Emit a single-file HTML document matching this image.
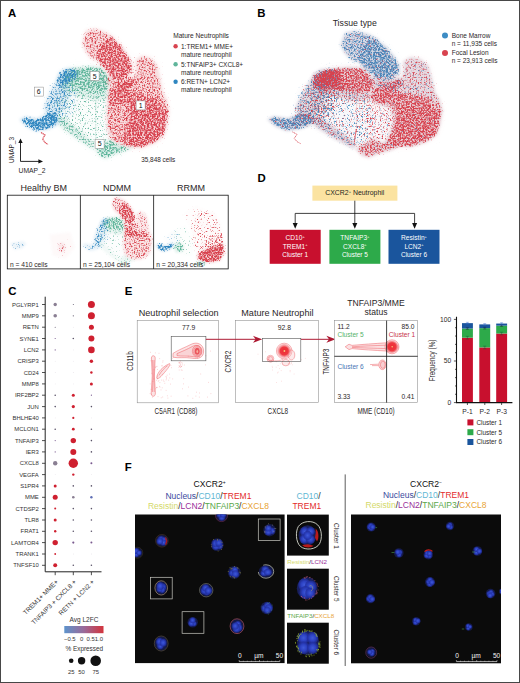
<!DOCTYPE html><html><head><meta charset="utf-8"><title>Figure</title><style>html,body{margin:0;padding:0;background:#fff}body{width:520px;height:683px;overflow:hidden;font-family:"Liberation Sans",sans-serif}</style></head><body><svg width="520" height="683" viewBox="0 0 520 683" font-family='&quot;Liberation Sans&quot;, sans-serif' style="display:block"><defs><filter id="fa5" filterUnits="userSpaceOnUse" x="10" y="20" width="170" height="150" color-interpolation-filters="sRGB"><feGaussianBlur in="SourceGraphic" stdDeviation="1.7" result="b"/><feTurbulence type="fractalNoise" baseFrequency="0.61" numOctaves="3" seed="11" result="n"/><feColorMatrix in="n" type="matrix" values="0 0 0 0 0 0 0 0 0 0 0 0 0 0 0 1.5 0 0 0 -0.25" result="n2"/><feComposite in="b" in2="n2" operator="arithmetic" k1="0" k2="1" k3="1" k4="-1" result="s"/><feColorMatrix in="s" type="matrix" values="0 0 0 0 0 0 0 0 0 0 0 0 0 0 0 0 0 0 2.6 0" result="m"/><feColorMatrix in="b" type="matrix" values="1 0 0 0 0 0 1 0 0 0 0 0 1 0 0 0 0 0 0 1" result="c"/><feComposite in="c" in2="m" operator="in" result="d"/><feColorMatrix in="b" type="matrix" values="1 0 0 0 0 0 1 0 0 0 0 0 1 0 0 0 0 0 0.3 0" result="bb"/><feMerge><feMergeNode in="bb"/><feMergeNode in="d"/></feMerge></filter><filter id="fa5s" filterUnits="userSpaceOnUse" x="10" y="20" width="170" height="150" color-interpolation-filters="sRGB"><feGaussianBlur in="SourceGraphic" stdDeviation="2.2" result="b"/><feTurbulence type="fractalNoise" baseFrequency="0.61" numOctaves="3" seed="21" result="n"/><feColorMatrix in="n" type="matrix" values="0 0 0 0 0 0 0 0 0 0 0 0 0 0 0 1.9 0 0 0 -0.45" result="n2"/><feComposite in="b" in2="n2" operator="arithmetic" k1="0" k2="1" k3="1" k4="-1" result="s"/><feColorMatrix in="s" type="matrix" values="0 0 0 0 0 0 0 0 0 0 0 0 0 0 0 0 0 0 2.6 0" result="m"/><feColorMatrix in="b" type="matrix" values="1 0 0 0 0 0 1 0 0 0 0 0 1 0 0 0 0 0 0 1" result="c"/><feComposite in="c" in2="m" operator="in" result="d"/><feColorMatrix in="b" type="matrix" values="1 0 0 0 0 0 1 0 0 0 0 0 1 0 0 0 0 0 0.08 0" result="bb"/><feMerge><feMergeNode in="bb"/><feMergeNode in="d"/></feMerge></filter><filter id="fa6" filterUnits="userSpaceOnUse" x="10" y="20" width="170" height="150" color-interpolation-filters="sRGB"><feGaussianBlur in="SourceGraphic" stdDeviation="1.7" result="b"/><feTurbulence type="fractalNoise" baseFrequency="0.61" numOctaves="3" seed="12" result="n"/><feColorMatrix in="n" type="matrix" values="0 0 0 0 0 0 0 0 0 0 0 0 0 0 0 1.5 0 0 0 -0.25" result="n2"/><feComposite in="b" in2="n2" operator="arithmetic" k1="0" k2="1" k3="1" k4="-1" result="s"/><feColorMatrix in="s" type="matrix" values="0 0 0 0 0 0 0 0 0 0 0 0 0 0 0 0 0 0 2.6 0" result="m"/><feColorMatrix in="b" type="matrix" values="1 0 0 0 0 0 1 0 0 0 0 0 1 0 0 0 0 0 0 1" result="c"/><feComposite in="c" in2="m" operator="in" result="d"/><feColorMatrix in="b" type="matrix" values="1 0 0 0 0 0 1 0 0 0 0 0 1 0 0 0 0 0 0.3 0" result="bb"/><feMerge><feMergeNode in="bb"/><feMergeNode in="d"/></feMerge></filter><filter id="fa6s" filterUnits="userSpaceOnUse" x="10" y="20" width="170" height="150" color-interpolation-filters="sRGB"><feGaussianBlur in="SourceGraphic" stdDeviation="2.2" result="b"/><feTurbulence type="fractalNoise" baseFrequency="0.61" numOctaves="3" seed="22" result="n"/><feColorMatrix in="n" type="matrix" values="0 0 0 0 0 0 0 0 0 0 0 0 0 0 0 1.9 0 0 0 -0.45" result="n2"/><feComposite in="b" in2="n2" operator="arithmetic" k1="0" k2="1" k3="1" k4="-1" result="s"/><feColorMatrix in="s" type="matrix" values="0 0 0 0 0 0 0 0 0 0 0 0 0 0 0 0 0 0 2.6 0" result="m"/><feColorMatrix in="b" type="matrix" values="1 0 0 0 0 0 1 0 0 0 0 0 1 0 0 0 0 0 0 1" result="c"/><feComposite in="c" in2="m" operator="in" result="d"/><feColorMatrix in="b" type="matrix" values="1 0 0 0 0 0 1 0 0 0 0 0 1 0 0 0 0 0 0.08 0" result="bb"/><feMerge><feMergeNode in="bb"/><feMergeNode in="d"/></feMerge></filter><filter id="fa1" filterUnits="userSpaceOnUse" x="10" y="20" width="170" height="150" color-interpolation-filters="sRGB"><feGaussianBlur in="SourceGraphic" stdDeviation="1.7" result="b"/><feTurbulence type="fractalNoise" baseFrequency="0.61" numOctaves="3" seed="13" result="n"/><feColorMatrix in="n" type="matrix" values="0 0 0 0 0 0 0 0 0 0 0 0 0 0 0 1.5 0 0 0 -0.25" result="n2"/><feComposite in="b" in2="n2" operator="arithmetic" k1="0" k2="1" k3="1" k4="-1" result="s"/><feColorMatrix in="s" type="matrix" values="0 0 0 0 0 0 0 0 0 0 0 0 0 0 0 0 0 0 2.6 0" result="m"/><feColorMatrix in="b" type="matrix" values="1 0 0 0 0 0 1 0 0 0 0 0 1 0 0 0 0 0 0 1" result="c"/><feComposite in="c" in2="m" operator="in" result="d"/><feColorMatrix in="b" type="matrix" values="1 0 0 0 0 0 1 0 0 0 0 0 1 0 0 0 0 0 0.3 0" result="bb"/><feMerge><feMergeNode in="bb"/><feMergeNode in="d"/></feMerge></filter><filter id="fa1s" filterUnits="userSpaceOnUse" x="10" y="20" width="170" height="150" color-interpolation-filters="sRGB"><feGaussianBlur in="SourceGraphic" stdDeviation="2.2" result="b"/><feTurbulence type="fractalNoise" baseFrequency="0.61" numOctaves="3" seed="23" result="n"/><feColorMatrix in="n" type="matrix" values="0 0 0 0 0 0 0 0 0 0 0 0 0 0 0 1.9 0 0 0 -0.45" result="n2"/><feComposite in="b" in2="n2" operator="arithmetic" k1="0" k2="1" k3="1" k4="-1" result="s"/><feColorMatrix in="s" type="matrix" values="0 0 0 0 0 0 0 0 0 0 0 0 0 0 0 0 0 0 2.6 0" result="m"/><feColorMatrix in="b" type="matrix" values="1 0 0 0 0 0 1 0 0 0 0 0 1 0 0 0 0 0 0 1" result="c"/><feComposite in="c" in2="m" operator="in" result="d"/><feColorMatrix in="b" type="matrix" values="1 0 0 0 0 0 1 0 0 0 0 0 1 0 0 0 0 0 0.08 0" result="bb"/><feMerge><feMergeNode in="bb"/><feMergeNode in="d"/></feMerge></filter><filter id="fb0" filterUnits="userSpaceOnUse" x="260" y="22" width="195" height="145" color-interpolation-filters="sRGB"><feGaussianBlur in="SourceGraphic" stdDeviation="1.7" result="b"/><feTurbulence type="fractalNoise" baseFrequency="0.61" numOctaves="3" seed="31" result="n"/><feColorMatrix in="n" type="matrix" values="0 0 0 0 0 0 0 0 0 0 0 0 0 0 0 1.5 0 0 0 -0.25" result="n2"/><feComposite in="b" in2="n2" operator="arithmetic" k1="0" k2="1" k3="1" k4="-1" result="s"/><feColorMatrix in="s" type="matrix" values="0 0 0 0 0 0 0 0 0 0 0 0 0 0 0 0 0 0 2.6 0" result="m"/><feColorMatrix in="b" type="matrix" values="1 0 0 0 0 0 1 0 0 0 0 0 1 0 0 0 0 0 0 1" result="c"/><feComposite in="c" in2="m" operator="in" result="d"/><feColorMatrix in="b" type="matrix" values="1 0 0 0 0 0 1 0 0 0 0 0 1 0 0 0 0 0 0.3 0" result="bb"/><feMerge><feMergeNode in="bb"/><feMergeNode in="d"/></feMerge></filter><filter id="fb0s" filterUnits="userSpaceOnUse" x="260" y="22" width="195" height="145" color-interpolation-filters="sRGB"><feGaussianBlur in="SourceGraphic" stdDeviation="2.2" result="b"/><feTurbulence type="fractalNoise" baseFrequency="0.61" numOctaves="3" seed="41" result="n"/><feColorMatrix in="n" type="matrix" values="0 0 0 0 0 0 0 0 0 0 0 0 0 0 0 1.9 0 0 0 -0.45" result="n2"/><feComposite in="b" in2="n2" operator="arithmetic" k1="0" k2="1" k3="1" k4="-1" result="s"/><feColorMatrix in="s" type="matrix" values="0 0 0 0 0 0 0 0 0 0 0 0 0 0 0 0 0 0 2.6 0" result="m"/><feColorMatrix in="b" type="matrix" values="1 0 0 0 0 0 1 0 0 0 0 0 1 0 0 0 0 0 0 1" result="c"/><feComposite in="c" in2="m" operator="in" result="d"/><feColorMatrix in="b" type="matrix" values="1 0 0 0 0 0 1 0 0 0 0 0 1 0 0 0 0 0 0.08 0" result="bb"/><feMerge><feMergeNode in="bb"/><feMergeNode in="d"/></feMerge></filter><filter id="fb1" filterUnits="userSpaceOnUse" x="260" y="22" width="195" height="145" color-interpolation-filters="sRGB"><feGaussianBlur in="SourceGraphic" stdDeviation="1.7" result="b"/><feTurbulence type="fractalNoise" baseFrequency="0.61" numOctaves="3" seed="38" result="n"/><feColorMatrix in="n" type="matrix" values="0 0 0 0 0 0 0 0 0 0 0 0 0 0 0 1.5 0 0 0 -0.25" result="n2"/><feComposite in="b" in2="n2" operator="arithmetic" k1="0" k2="1" k3="1" k4="-1" result="s"/><feColorMatrix in="s" type="matrix" values="0 0 0 0 0 0 0 0 0 0 0 0 0 0 0 0 0 0 2.6 0" result="m"/><feColorMatrix in="b" type="matrix" values="1 0 0 0 0 0 1 0 0 0 0 0 1 0 0 0 0 0 0 1" result="c"/><feComposite in="c" in2="m" operator="in" result="d"/><feColorMatrix in="b" type="matrix" values="1 0 0 0 0 0 1 0 0 0 0 0 1 0 0 0 0 0 0.3 0" result="bb"/><feMerge><feMergeNode in="bb"/><feMergeNode in="d"/></feMerge></filter><filter id="fb1s" filterUnits="userSpaceOnUse" x="260" y="22" width="195" height="145" color-interpolation-filters="sRGB"><feGaussianBlur in="SourceGraphic" stdDeviation="2.2" result="b"/><feTurbulence type="fractalNoise" baseFrequency="0.61" numOctaves="3" seed="48" result="n"/><feColorMatrix in="n" type="matrix" values="0 0 0 0 0 0 0 0 0 0 0 0 0 0 0 1.9 0 0 0 -0.45" result="n2"/><feComposite in="b" in2="n2" operator="arithmetic" k1="0" k2="1" k3="1" k4="-1" result="s"/><feColorMatrix in="s" type="matrix" values="0 0 0 0 0 0 0 0 0 0 0 0 0 0 0 0 0 0 2.6 0" result="m"/><feColorMatrix in="b" type="matrix" values="1 0 0 0 0 0 1 0 0 0 0 0 1 0 0 0 0 0 0 1" result="c"/><feComposite in="c" in2="m" operator="in" result="d"/><feColorMatrix in="b" type="matrix" values="1 0 0 0 0 0 1 0 0 0 0 0 1 0 0 0 0 0 0.08 0" result="bb"/><feMerge><feMergeNode in="bb"/><feMergeNode in="d"/></feMerge></filter><filter id="fm0_5" filterUnits="userSpaceOnUse" x="7.3" y="195.2" width="73.1" height="73.7" color-interpolation-filters="sRGB"><feGaussianBlur in="SourceGraphic" stdDeviation="1" result="b"/><feTurbulence type="fractalNoise" baseFrequency="0.67" numOctaves="3" seed="51" result="n"/><feColorMatrix in="n" type="matrix" values="0 0 0 0 0 0 0 0 0 0 0 0 0 0 0 1.5 0 0 0 -0.25" result="n2"/><feComposite in="b" in2="n2" operator="arithmetic" k1="0" k2="1" k3="1" k4="-1" result="s"/><feColorMatrix in="s" type="matrix" values="0 0 0 0 0 0 0 0 0 0 0 0 0 0 0 0 0 0 2.6 0" result="m"/><feColorMatrix in="b" type="matrix" values="1 0 0 0 0 0 1 0 0 0 0 0 1 0 0 0 0 0 0 1" result="c"/><feComposite in="c" in2="m" operator="in" result="d"/><feColorMatrix in="b" type="matrix" values="1 0 0 0 0 0 1 0 0 0 0 0 1 0 0 0 0 0 0.25 0" result="bb"/><feMerge><feMergeNode in="bb"/><feMergeNode in="d"/></feMerge></filter><filter id="fm0_5s" filterUnits="userSpaceOnUse" x="7.3" y="195.2" width="73.1" height="73.7" color-interpolation-filters="sRGB"><feGaussianBlur in="SourceGraphic" stdDeviation="1.3" result="b"/><feTurbulence type="fractalNoise" baseFrequency="0.67" numOctaves="3" seed="71" result="n"/><feColorMatrix in="n" type="matrix" values="0 0 0 0 0 0 0 0 0 0 0 0 0 0 0 1.9 0 0 0 -0.45" result="n2"/><feComposite in="b" in2="n2" operator="arithmetic" k1="0" k2="1" k3="1" k4="-1" result="s"/><feColorMatrix in="s" type="matrix" values="0 0 0 0 0 0 0 0 0 0 0 0 0 0 0 0 0 0 2.6 0" result="m"/><feColorMatrix in="b" type="matrix" values="1 0 0 0 0 0 1 0 0 0 0 0 1 0 0 0 0 0 0 1" result="c"/><feComposite in="c" in2="m" operator="in" result="d"/><feColorMatrix in="b" type="matrix" values="1 0 0 0 0 0 1 0 0 0 0 0 1 0 0 0 0 0 0.08 0" result="bb"/><feMerge><feMergeNode in="bb"/><feMergeNode in="d"/></feMerge></filter><filter id="fm0_6" filterUnits="userSpaceOnUse" x="7.3" y="195.2" width="73.1" height="73.7" color-interpolation-filters="sRGB"><feGaussianBlur in="SourceGraphic" stdDeviation="1" result="b"/><feTurbulence type="fractalNoise" baseFrequency="0.67" numOctaves="3" seed="52" result="n"/><feColorMatrix in="n" type="matrix" values="0 0 0 0 0 0 0 0 0 0 0 0 0 0 0 1.5 0 0 0 -0.25" result="n2"/><feComposite in="b" in2="n2" operator="arithmetic" k1="0" k2="1" k3="1" k4="-1" result="s"/><feColorMatrix in="s" type="matrix" values="0 0 0 0 0 0 0 0 0 0 0 0 0 0 0 0 0 0 2.6 0" result="m"/><feColorMatrix in="b" type="matrix" values="1 0 0 0 0 0 1 0 0 0 0 0 1 0 0 0 0 0 0 1" result="c"/><feComposite in="c" in2="m" operator="in" result="d"/><feColorMatrix in="b" type="matrix" values="1 0 0 0 0 0 1 0 0 0 0 0 1 0 0 0 0 0 0.25 0" result="bb"/><feMerge><feMergeNode in="bb"/><feMergeNode in="d"/></feMerge></filter><filter id="fm0_6s" filterUnits="userSpaceOnUse" x="7.3" y="195.2" width="73.1" height="73.7" color-interpolation-filters="sRGB"><feGaussianBlur in="SourceGraphic" stdDeviation="1.3" result="b"/><feTurbulence type="fractalNoise" baseFrequency="0.67" numOctaves="3" seed="72" result="n"/><feColorMatrix in="n" type="matrix" values="0 0 0 0 0 0 0 0 0 0 0 0 0 0 0 1.9 0 0 0 -0.45" result="n2"/><feComposite in="b" in2="n2" operator="arithmetic" k1="0" k2="1" k3="1" k4="-1" result="s"/><feColorMatrix in="s" type="matrix" values="0 0 0 0 0 0 0 0 0 0 0 0 0 0 0 0 0 0 2.6 0" result="m"/><feColorMatrix in="b" type="matrix" values="1 0 0 0 0 0 1 0 0 0 0 0 1 0 0 0 0 0 0 1" result="c"/><feComposite in="c" in2="m" operator="in" result="d"/><feColorMatrix in="b" type="matrix" values="1 0 0 0 0 0 1 0 0 0 0 0 1 0 0 0 0 0 0.08 0" result="bb"/><feMerge><feMergeNode in="bb"/><feMergeNode in="d"/></feMerge></filter><filter id="fm0_1" filterUnits="userSpaceOnUse" x="7.3" y="195.2" width="73.1" height="73.7" color-interpolation-filters="sRGB"><feGaussianBlur in="SourceGraphic" stdDeviation="1" result="b"/><feTurbulence type="fractalNoise" baseFrequency="0.67" numOctaves="3" seed="53" result="n"/><feColorMatrix in="n" type="matrix" values="0 0 0 0 0 0 0 0 0 0 0 0 0 0 0 1.5 0 0 0 -0.25" result="n2"/><feComposite in="b" in2="n2" operator="arithmetic" k1="0" k2="1" k3="1" k4="-1" result="s"/><feColorMatrix in="s" type="matrix" values="0 0 0 0 0 0 0 0 0 0 0 0 0 0 0 0 0 0 2.6 0" result="m"/><feColorMatrix in="b" type="matrix" values="1 0 0 0 0 0 1 0 0 0 0 0 1 0 0 0 0 0 0 1" result="c"/><feComposite in="c" in2="m" operator="in" result="d"/><feColorMatrix in="b" type="matrix" values="1 0 0 0 0 0 1 0 0 0 0 0 1 0 0 0 0 0 0.25 0" result="bb"/><feMerge><feMergeNode in="bb"/><feMergeNode in="d"/></feMerge></filter><filter id="fm0_1s" filterUnits="userSpaceOnUse" x="7.3" y="195.2" width="73.1" height="73.7" color-interpolation-filters="sRGB"><feGaussianBlur in="SourceGraphic" stdDeviation="1.3" result="b"/><feTurbulence type="fractalNoise" baseFrequency="0.67" numOctaves="3" seed="73" result="n"/><feColorMatrix in="n" type="matrix" values="0 0 0 0 0 0 0 0 0 0 0 0 0 0 0 1.9 0 0 0 -0.45" result="n2"/><feComposite in="b" in2="n2" operator="arithmetic" k1="0" k2="1" k3="1" k4="-1" result="s"/><feColorMatrix in="s" type="matrix" values="0 0 0 0 0 0 0 0 0 0 0 0 0 0 0 0 0 0 2.6 0" result="m"/><feColorMatrix in="b" type="matrix" values="1 0 0 0 0 0 1 0 0 0 0 0 1 0 0 0 0 0 0 1" result="c"/><feComposite in="c" in2="m" operator="in" result="d"/><feColorMatrix in="b" type="matrix" values="1 0 0 0 0 0 1 0 0 0 0 0 1 0 0 0 0 0 0.08 0" result="bb"/><feMerge><feMergeNode in="bb"/><feMergeNode in="d"/></feMerge></filter><clipPath id="clipm0"><rect x="7.3" y="195.2" width="73.1" height="73.7"/></clipPath><filter id="fm1_5" filterUnits="userSpaceOnUse" x="80.4" y="195.2" width="73.2" height="73.7" color-interpolation-filters="sRGB"><feGaussianBlur in="SourceGraphic" stdDeviation="1" result="b"/><feTurbulence type="fractalNoise" baseFrequency="0.67" numOctaves="3" seed="56" result="n"/><feColorMatrix in="n" type="matrix" values="0 0 0 0 0 0 0 0 0 0 0 0 0 0 0 1.5 0 0 0 -0.25" result="n2"/><feComposite in="b" in2="n2" operator="arithmetic" k1="0" k2="1" k3="1" k4="-1" result="s"/><feColorMatrix in="s" type="matrix" values="0 0 0 0 0 0 0 0 0 0 0 0 0 0 0 0 0 0 2.6 0" result="m"/><feColorMatrix in="b" type="matrix" values="1 0 0 0 0 0 1 0 0 0 0 0 1 0 0 0 0 0 0 1" result="c"/><feComposite in="c" in2="m" operator="in" result="d"/><feColorMatrix in="b" type="matrix" values="1 0 0 0 0 0 1 0 0 0 0 0 1 0 0 0 0 0 0.25 0" result="bb"/><feMerge><feMergeNode in="bb"/><feMergeNode in="d"/></feMerge></filter><filter id="fm1_5s" filterUnits="userSpaceOnUse" x="80.4" y="195.2" width="73.2" height="73.7" color-interpolation-filters="sRGB"><feGaussianBlur in="SourceGraphic" stdDeviation="1.3" result="b"/><feTurbulence type="fractalNoise" baseFrequency="0.67" numOctaves="3" seed="76" result="n"/><feColorMatrix in="n" type="matrix" values="0 0 0 0 0 0 0 0 0 0 0 0 0 0 0 1.9 0 0 0 -0.45" result="n2"/><feComposite in="b" in2="n2" operator="arithmetic" k1="0" k2="1" k3="1" k4="-1" result="s"/><feColorMatrix in="s" type="matrix" values="0 0 0 0 0 0 0 0 0 0 0 0 0 0 0 0 0 0 2.6 0" result="m"/><feColorMatrix in="b" type="matrix" values="1 0 0 0 0 0 1 0 0 0 0 0 1 0 0 0 0 0 0 1" result="c"/><feComposite in="c" in2="m" operator="in" result="d"/><feColorMatrix in="b" type="matrix" values="1 0 0 0 0 0 1 0 0 0 0 0 1 0 0 0 0 0 0.08 0" result="bb"/><feMerge><feMergeNode in="bb"/><feMergeNode in="d"/></feMerge></filter><filter id="fm1_6" filterUnits="userSpaceOnUse" x="80.4" y="195.2" width="73.2" height="73.7" color-interpolation-filters="sRGB"><feGaussianBlur in="SourceGraphic" stdDeviation="1" result="b"/><feTurbulence type="fractalNoise" baseFrequency="0.67" numOctaves="3" seed="57" result="n"/><feColorMatrix in="n" type="matrix" values="0 0 0 0 0 0 0 0 0 0 0 0 0 0 0 1.5 0 0 0 -0.25" result="n2"/><feComposite in="b" in2="n2" operator="arithmetic" k1="0" k2="1" k3="1" k4="-1" result="s"/><feColorMatrix in="s" type="matrix" values="0 0 0 0 0 0 0 0 0 0 0 0 0 0 0 0 0 0 2.6 0" result="m"/><feColorMatrix in="b" type="matrix" values="1 0 0 0 0 0 1 0 0 0 0 0 1 0 0 0 0 0 0 1" result="c"/><feComposite in="c" in2="m" operator="in" result="d"/><feColorMatrix in="b" type="matrix" values="1 0 0 0 0 0 1 0 0 0 0 0 1 0 0 0 0 0 0.25 0" result="bb"/><feMerge><feMergeNode in="bb"/><feMergeNode in="d"/></feMerge></filter><filter id="fm1_6s" filterUnits="userSpaceOnUse" x="80.4" y="195.2" width="73.2" height="73.7" color-interpolation-filters="sRGB"><feGaussianBlur in="SourceGraphic" stdDeviation="1.3" result="b"/><feTurbulence type="fractalNoise" baseFrequency="0.67" numOctaves="3" seed="77" result="n"/><feColorMatrix in="n" type="matrix" values="0 0 0 0 0 0 0 0 0 0 0 0 0 0 0 1.9 0 0 0 -0.45" result="n2"/><feComposite in="b" in2="n2" operator="arithmetic" k1="0" k2="1" k3="1" k4="-1" result="s"/><feColorMatrix in="s" type="matrix" values="0 0 0 0 0 0 0 0 0 0 0 0 0 0 0 0 0 0 2.6 0" result="m"/><feColorMatrix in="b" type="matrix" values="1 0 0 0 0 0 1 0 0 0 0 0 1 0 0 0 0 0 0 1" result="c"/><feComposite in="c" in2="m" operator="in" result="d"/><feColorMatrix in="b" type="matrix" values="1 0 0 0 0 0 1 0 0 0 0 0 1 0 0 0 0 0 0.08 0" result="bb"/><feMerge><feMergeNode in="bb"/><feMergeNode in="d"/></feMerge></filter><filter id="fm1_1" filterUnits="userSpaceOnUse" x="80.4" y="195.2" width="73.2" height="73.7" color-interpolation-filters="sRGB"><feGaussianBlur in="SourceGraphic" stdDeviation="1" result="b"/><feTurbulence type="fractalNoise" baseFrequency="0.67" numOctaves="3" seed="58" result="n"/><feColorMatrix in="n" type="matrix" values="0 0 0 0 0 0 0 0 0 0 0 0 0 0 0 1.5 0 0 0 -0.25" result="n2"/><feComposite in="b" in2="n2" operator="arithmetic" k1="0" k2="1" k3="1" k4="-1" result="s"/><feColorMatrix in="s" type="matrix" values="0 0 0 0 0 0 0 0 0 0 0 0 0 0 0 0 0 0 2.6 0" result="m"/><feColorMatrix in="b" type="matrix" values="1 0 0 0 0 0 1 0 0 0 0 0 1 0 0 0 0 0 0 1" result="c"/><feComposite in="c" in2="m" operator="in" result="d"/><feColorMatrix in="b" type="matrix" values="1 0 0 0 0 0 1 0 0 0 0 0 1 0 0 0 0 0 0.25 0" result="bb"/><feMerge><feMergeNode in="bb"/><feMergeNode in="d"/></feMerge></filter><filter id="fm1_1s" filterUnits="userSpaceOnUse" x="80.4" y="195.2" width="73.2" height="73.7" color-interpolation-filters="sRGB"><feGaussianBlur in="SourceGraphic" stdDeviation="1.3" result="b"/><feTurbulence type="fractalNoise" baseFrequency="0.67" numOctaves="3" seed="78" result="n"/><feColorMatrix in="n" type="matrix" values="0 0 0 0 0 0 0 0 0 0 0 0 0 0 0 1.9 0 0 0 -0.45" result="n2"/><feComposite in="b" in2="n2" operator="arithmetic" k1="0" k2="1" k3="1" k4="-1" result="s"/><feColorMatrix in="s" type="matrix" values="0 0 0 0 0 0 0 0 0 0 0 0 0 0 0 0 0 0 2.6 0" result="m"/><feColorMatrix in="b" type="matrix" values="1 0 0 0 0 0 1 0 0 0 0 0 1 0 0 0 0 0 0 1" result="c"/><feComposite in="c" in2="m" operator="in" result="d"/><feColorMatrix in="b" type="matrix" values="1 0 0 0 0 0 1 0 0 0 0 0 1 0 0 0 0 0 0.08 0" result="bb"/><feMerge><feMergeNode in="bb"/><feMergeNode in="d"/></feMerge></filter><clipPath id="clipm1"><rect x="80.4" y="195.2" width="73.2" height="73.7"/></clipPath><filter id="fm2_5" filterUnits="userSpaceOnUse" x="153.6" y="195.2" width="74.6" height="73.7" color-interpolation-filters="sRGB"><feGaussianBlur in="SourceGraphic" stdDeviation="1" result="b"/><feTurbulence type="fractalNoise" baseFrequency="0.67" numOctaves="3" seed="61" result="n"/><feColorMatrix in="n" type="matrix" values="0 0 0 0 0 0 0 0 0 0 0 0 0 0 0 1.5 0 0 0 -0.25" result="n2"/><feComposite in="b" in2="n2" operator="arithmetic" k1="0" k2="1" k3="1" k4="-1" result="s"/><feColorMatrix in="s" type="matrix" values="0 0 0 0 0 0 0 0 0 0 0 0 0 0 0 0 0 0 2.6 0" result="m"/><feColorMatrix in="b" type="matrix" values="1 0 0 0 0 0 1 0 0 0 0 0 1 0 0 0 0 0 0 1" result="c"/><feComposite in="c" in2="m" operator="in" result="d"/><feColorMatrix in="b" type="matrix" values="1 0 0 0 0 0 1 0 0 0 0 0 1 0 0 0 0 0 0.25 0" result="bb"/><feMerge><feMergeNode in="bb"/><feMergeNode in="d"/></feMerge></filter><filter id="fm2_5s" filterUnits="userSpaceOnUse" x="153.6" y="195.2" width="74.6" height="73.7" color-interpolation-filters="sRGB"><feGaussianBlur in="SourceGraphic" stdDeviation="1.3" result="b"/><feTurbulence type="fractalNoise" baseFrequency="0.67" numOctaves="3" seed="81" result="n"/><feColorMatrix in="n" type="matrix" values="0 0 0 0 0 0 0 0 0 0 0 0 0 0 0 1.9 0 0 0 -0.45" result="n2"/><feComposite in="b" in2="n2" operator="arithmetic" k1="0" k2="1" k3="1" k4="-1" result="s"/><feColorMatrix in="s" type="matrix" values="0 0 0 0 0 0 0 0 0 0 0 0 0 0 0 0 0 0 2.6 0" result="m"/><feColorMatrix in="b" type="matrix" values="1 0 0 0 0 0 1 0 0 0 0 0 1 0 0 0 0 0 0 1" result="c"/><feComposite in="c" in2="m" operator="in" result="d"/><feColorMatrix in="b" type="matrix" values="1 0 0 0 0 0 1 0 0 0 0 0 1 0 0 0 0 0 0.08 0" result="bb"/><feMerge><feMergeNode in="bb"/><feMergeNode in="d"/></feMerge></filter><filter id="fm2_6" filterUnits="userSpaceOnUse" x="153.6" y="195.2" width="74.6" height="73.7" color-interpolation-filters="sRGB"><feGaussianBlur in="SourceGraphic" stdDeviation="1" result="b"/><feTurbulence type="fractalNoise" baseFrequency="0.67" numOctaves="3" seed="62" result="n"/><feColorMatrix in="n" type="matrix" values="0 0 0 0 0 0 0 0 0 0 0 0 0 0 0 1.5 0 0 0 -0.25" result="n2"/><feComposite in="b" in2="n2" operator="arithmetic" k1="0" k2="1" k3="1" k4="-1" result="s"/><feColorMatrix in="s" type="matrix" values="0 0 0 0 0 0 0 0 0 0 0 0 0 0 0 0 0 0 2.6 0" result="m"/><feColorMatrix in="b" type="matrix" values="1 0 0 0 0 0 1 0 0 0 0 0 1 0 0 0 0 0 0 1" result="c"/><feComposite in="c" in2="m" operator="in" result="d"/><feColorMatrix in="b" type="matrix" values="1 0 0 0 0 0 1 0 0 0 0 0 1 0 0 0 0 0 0.25 0" result="bb"/><feMerge><feMergeNode in="bb"/><feMergeNode in="d"/></feMerge></filter><filter id="fm2_6s" filterUnits="userSpaceOnUse" x="153.6" y="195.2" width="74.6" height="73.7" color-interpolation-filters="sRGB"><feGaussianBlur in="SourceGraphic" stdDeviation="1.3" result="b"/><feTurbulence type="fractalNoise" baseFrequency="0.67" numOctaves="3" seed="82" result="n"/><feColorMatrix in="n" type="matrix" values="0 0 0 0 0 0 0 0 0 0 0 0 0 0 0 1.9 0 0 0 -0.45" result="n2"/><feComposite in="b" in2="n2" operator="arithmetic" k1="0" k2="1" k3="1" k4="-1" result="s"/><feColorMatrix in="s" type="matrix" values="0 0 0 0 0 0 0 0 0 0 0 0 0 0 0 0 0 0 2.6 0" result="m"/><feColorMatrix in="b" type="matrix" values="1 0 0 0 0 0 1 0 0 0 0 0 1 0 0 0 0 0 0 1" result="c"/><feComposite in="c" in2="m" operator="in" result="d"/><feColorMatrix in="b" type="matrix" values="1 0 0 0 0 0 1 0 0 0 0 0 1 0 0 0 0 0 0.08 0" result="bb"/><feMerge><feMergeNode in="bb"/><feMergeNode in="d"/></feMerge></filter><filter id="fm2_1" filterUnits="userSpaceOnUse" x="153.6" y="195.2" width="74.6" height="73.7" color-interpolation-filters="sRGB"><feGaussianBlur in="SourceGraphic" stdDeviation="1" result="b"/><feTurbulence type="fractalNoise" baseFrequency="0.67" numOctaves="3" seed="63" result="n"/><feColorMatrix in="n" type="matrix" values="0 0 0 0 0 0 0 0 0 0 0 0 0 0 0 1.5 0 0 0 -0.25" result="n2"/><feComposite in="b" in2="n2" operator="arithmetic" k1="0" k2="1" k3="1" k4="-1" result="s"/><feColorMatrix in="s" type="matrix" values="0 0 0 0 0 0 0 0 0 0 0 0 0 0 0 0 0 0 2.6 0" result="m"/><feColorMatrix in="b" type="matrix" values="1 0 0 0 0 0 1 0 0 0 0 0 1 0 0 0 0 0 0 1" result="c"/><feComposite in="c" in2="m" operator="in" result="d"/><feColorMatrix in="b" type="matrix" values="1 0 0 0 0 0 1 0 0 0 0 0 1 0 0 0 0 0 0.25 0" result="bb"/><feMerge><feMergeNode in="bb"/><feMergeNode in="d"/></feMerge></filter><filter id="fm2_1s" filterUnits="userSpaceOnUse" x="153.6" y="195.2" width="74.6" height="73.7" color-interpolation-filters="sRGB"><feGaussianBlur in="SourceGraphic" stdDeviation="1.3" result="b"/><feTurbulence type="fractalNoise" baseFrequency="0.67" numOctaves="3" seed="83" result="n"/><feColorMatrix in="n" type="matrix" values="0 0 0 0 0 0 0 0 0 0 0 0 0 0 0 1.9 0 0 0 -0.45" result="n2"/><feComposite in="b" in2="n2" operator="arithmetic" k1="0" k2="1" k3="1" k4="-1" result="s"/><feColorMatrix in="s" type="matrix" values="0 0 0 0 0 0 0 0 0 0 0 0 0 0 0 0 0 0 2.6 0" result="m"/><feColorMatrix in="b" type="matrix" values="1 0 0 0 0 0 1 0 0 0 0 0 1 0 0 0 0 0 0 1" result="c"/><feComposite in="c" in2="m" operator="in" result="d"/><feColorMatrix in="b" type="matrix" values="1 0 0 0 0 0 1 0 0 0 0 0 1 0 0 0 0 0 0.08 0" result="bb"/><feMerge><feMergeNode in="bb"/><feMergeNode in="d"/></feMerge></filter><clipPath id="clipm2"><rect x="153.6" y="195.2" width="74.6" height="73.7"/></clipPath><linearGradient id="l2fc" x1="0" x2="1" y1="0" y2="0"><stop offset="0" stop-color="#5d93cb"/><stop offset="0.5" stop-color="#9a6a9a"/><stop offset="1" stop-color="#d3343c"/></linearGradient><radialGradient id="blob"><stop offset="0" stop-color="#f25a3e"/><stop offset="0.15" stop-color="#ee2f37"/><stop offset="0.62" stop-color="#ee3038" stop-opacity="0.95"/><stop offset="0.85" stop-color="#f26a70" stop-opacity="0.55"/><stop offset="1" stop-color="#f6a0a4" stop-opacity="0"/></radialGradient><filter id="soft" x="-20%" y="-20%" width="140%" height="140%"><feGaussianBlur stdDeviation="0.35"/></filter><radialGradient id="nuc"><stop offset="0" stop-color="#3f59d8"/><stop offset="0.55" stop-color="#2b40c0"/><stop offset="1" stop-color="#1f2b98" stop-opacity="0.7"/></radialGradient><clipPath id="clipf1"><rect x="135" y="514.5" width="149.6" height="148.6"/></clipPath><clipPath id="clipf2"><rect x="351" y="514.5" width="150" height="148.8"/></clipPath></defs><rect x="0" y="0" width="520" height="683" fill="#fff"/><g filter="url(#fa5s)"><polygon points="58.0,76.0 70.0,64.0 90.0,62.0 104.0,64.0 110.0,76.0 112.0,92.0 110.0,120.0 112.0,140.0 124.0,148.0 134.0,148.0 120.0,156.0 104.0,161.0 94.0,154.0 74.0,140.0 58.0,128.0 52.0,116.0 54.0,96.0" fill="#5fb59b" fill-opacity="0.14"/><polygon points="62.0,80.0 84.0,90.0 107.0,92.0 107.0,127.0 110.0,139.0 100.0,150.0 90.0,146.0 75.0,135.0 60.0,125.0 55.0,115.0 57.0,98.0" fill="#5fb59b" fill-opacity="0.25"/></g><g filter="url(#fa5)"><polygon points="66.0,71.0 74.0,67.5 90.0,66.0 101.0,67.0 107.0,74.0 110.0,84.0 107.0,92.0 98.0,92.0 84.0,90.0 70.0,86.0 62.0,80.0" fill="#5fb59b" fill-opacity="0.70"/><polygon points="62.0,80.0 70.0,86.0 84.0,90.0 98.0,92.0 107.0,92.0 108.0,99.0 96.0,101.0 82.0,98.0 68.0,93.0 60.0,87.0" fill="#5fb59b" fill-opacity="0.50"/><polygon points="95.0,150.0 101.0,145.0 110.0,139.0 118.0,144.0 128.0,147.0 136.0,146.0 126.0,151.0 114.0,155.0 106.0,159.0 100.0,157.0" fill="#5fb59b" fill-opacity="0.68"/><polygon points="57.0,118.0 62.0,116.0 80.0,130.0 96.0,145.0 93.0,150.0 76.0,139.0 60.0,127.0" fill="#5fb59b" fill-opacity="0.52"/></g><g filter="url(#fa6s)"><polygon points="48.0,88.0 62.0,78.0 78.0,86.0 78.0,108.0 64.0,124.0 50.0,126.0 42.0,114.0" fill="#2f86c0" fill-opacity="0.35"/></g><g filter="url(#fa6)"><polygon points="59.0,72.0 66.0,68.0 75.0,68.5 80.0,72.0 76.0,79.0 68.0,84.0 60.0,86.0 56.0,80.0" fill="#2f86c0" fill-opacity="0.70"/><polygon points="56.0,80.0 68.0,84.0 70.0,96.0 64.0,110.0 57.0,117.0 46.0,118.0 44.0,106.0 50.0,92.0" fill="#2f86c0" fill-opacity="0.47"/><polygon points="19.5,119.5 25.0,116.5 37.0,118.5 48.0,113.5 58.0,115.0 60.0,121.0 56.0,126.0 48.0,129.5 36.0,131.5 26.5,127.0" fill="#2f86c0" fill-opacity="0.78"/></g><g filter="url(#fa1s)"><polygon points="84.0,30.0 96.0,27.0 110.0,32.0 124.0,44.0 134.0,56.0 143.0,53.0 154.0,56.0 160.0,64.0 163.0,80.0 166.0,95.0 171.0,108.0 169.0,128.0 165.0,139.0 155.0,146.0 142.0,151.0 126.0,150.0 112.0,143.0 105.0,132.0 104.0,110.0 106.0,92.0 104.0,80.0 96.0,68.0 88.0,58.0 82.0,44.0" fill="#d8434f" fill-opacity="0.15"/></g><g filter="url(#fa1)"><polygon points="97.0,52.0 104.0,42.0 113.0,38.0 121.0,45.0 128.0,55.0 132.5,64.0 132.5,72.0 124.0,79.5 112.0,77.0 103.0,68.0 97.0,60.0" fill="#d8434f" fill-opacity="0.74"/><polygon points="86.0,30.5 95.0,28.5 106.0,32.0 115.0,38.0 105.0,43.0 97.0,52.0 98.0,61.0 91.0,59.0 85.0,51.0 82.0,43.0 84.0,36.0" fill="#d8434f" fill-opacity="0.56"/><polygon points="108.0,75.0 124.0,79.0 132.0,75.0 136.0,84.0 125.0,90.0 112.0,89.0 106.0,82.0" fill="#d8434f" fill-opacity="0.56"/><polygon points="135.5,60.0 142.0,55.5 150.0,57.5 157.0,64.0 160.0,77.0 163.0,92.0 167.0,100.0 150.0,96.0 135.0,92.0 120.0,88.0 113.0,83.0 125.0,82.0 134.0,78.0 136.0,69.0" fill="#d8434f" fill-opacity="0.56"/><polygon points="109.0,88.0 120.0,88.0 135.0,92.0 150.0,96.0 167.0,100.0 169.0,110.0 167.0,125.0 164.0,136.0 155.0,143.0 142.0,148.0 128.0,147.0 118.0,144.0 110.0,139.0 107.0,127.0 106.5,112.0 107.5,98.0" fill="#d8434f" fill-opacity="0.60"/><polygon points="109.0,88.0 120.0,88.0 135.0,92.0 150.0,96.0 160.0,98.0 158.0,106.0 140.0,104.0 125.0,103.0 110.0,104.0 107.5,98.0" fill="#d8434f" fill-opacity="0.35"/><polygon points="128.0,104.0 158.0,106.0 169.0,110.0 167.0,125.0 164.0,136.0 155.0,143.0 142.0,148.0 128.0,147.0 122.0,140.0 128.0,128.0 130.0,115.0" fill="#d8434f" fill-opacity="0.38"/></g><path d="M41,132.5 L45,135 L42.5,139 L45,142.5 L48,144.5" fill="none" stroke="#d8434f" stroke-width="1.1" stroke-dasharray="1.4 0.5"/><path d="M95.8,100 V140" fill="none" stroke="#5fb59b" stroke-width="0.6" stroke-dasharray="0.7 0.9"/><rect x="90.1" y="71.5" width="9" height="9" fill="#fff" stroke="#8a8a8a" stroke-width="0.5"/><text x="94.60" y="78.50" font-size="7" text-anchor="middle" fill="#111" font-weight="normal">5</text><rect x="136.1" y="100.9" width="9" height="9" fill="#fff" stroke="#8a8a8a" stroke-width="0.5"/><text x="140.60" y="107.90" font-size="7" text-anchor="middle" fill="#111" font-weight="normal">1</text><rect x="95.1" y="139.3" width="9" height="9" fill="#fff" stroke="#8a8a8a" stroke-width="0.5"/><text x="99.60" y="146.30" font-size="7" text-anchor="middle" fill="#111" font-weight="normal">5</text><rect x="34.3" y="87.1" width="9" height="9" fill="#fff" stroke="#8a8a8a" stroke-width="0.5"/><text x="38.80" y="94.10" font-size="7" text-anchor="middle" fill="#111" font-weight="normal">6</text><path d="M20.5,142 V161.4 H39" fill="none" stroke="#111" stroke-width="0.9"/><path d="M20.5,138.4 L18.3,143 L22.7,143 Z" fill="#111"/><path d="M43,161.4 L38.4,159.2 L38.4,163.6 Z" fill="#111"/><text x="0.00" y="0.00" font-size="7.7" text-anchor="start" fill="#2b2728" font-weight="normal" transform="translate(14.40 163.00) rotate(-90) scale(0.85 1)">UMAP_3</text><text x="0.00" y="0.00" font-size="7.7" text-anchor="start" fill="#2b2728" font-weight="normal" transform="translate(18.50 172.50) scale(0.88 1)">UMAP_2</text><text x="173.20" y="37.60" font-size="6.6" text-anchor="start" fill="#2b2728" font-weight="normal">Mature Neutrophils</text><circle cx="175.6" cy="46.3" r="2.2" fill="#d8434f"/><text x="181.00" y="48.60" font-size="6.5" text-anchor="start" fill="#2b2728" font-weight="normal">1:TREM1+ MME+</text><text x="181.00" y="56.70" font-size="6.5" text-anchor="start" fill="#2b2728" font-weight="normal">mature neutrophil</text><circle cx="175.6" cy="64.3" r="2.2" fill="#5fb59b"/><text x="181.00" y="66.60" font-size="6.5" text-anchor="start" fill="#2b2728" font-weight="normal">5:TNFAIP3+ CXCL8+</text><text x="181.00" y="74.70" font-size="6.5" text-anchor="start" fill="#2b2728" font-weight="normal">mature neutrophil</text><circle cx="175.6" cy="81.8" r="2.2" fill="#2f86c0"/><text x="181.00" y="84.10" font-size="6.5" text-anchor="start" fill="#2b2728" font-weight="normal">6:RETN+ LCN2+</text><text x="181.00" y="92.20" font-size="6.5" text-anchor="start" fill="#2b2728" font-weight="normal">mature neutrophil</text><text x="141.20" y="161.80" font-size="6.4" text-anchor="start" fill="#2b2728" font-weight="normal">35,848 cells</text><text x="8.00" y="16.50" font-size="11.4" text-anchor="start" fill="#000" font-weight="bold">A</text><g filter="url(#fb0s)"><polygon points="342.8,32.0 356.9,29.1 373.3,34.0 389.7,45.6 401.4,59.3 402.6,72.9 389.7,81.7 371.0,80.8 356.9,69.0 347.5,59.3 340.5,45.6" fill="#3d8cc4" fill-opacity="0.16"/><polygon points="312.4,76.8 326.4,65.2 349.9,63.2 366.3,67.1 371.0,92.4 371.0,129.5 361.6,149.0 333.5,139.2 312.4,127.5 298.3,125.6 291.3,113.9 300.6,90.5" fill="#3d8cc4" fill-opacity="0.15"/><polygon points="369.8,104.1 389.7,108.0 393.2,119.8 389.7,134.4 382.7,144.1 373.3,138.3 369.8,126.6" fill="#3d8cc4" fill-opacity="0.24"/><polygon points="317.1,80.8 342.8,90.5 369.8,92.4 369.8,126.6 373.3,138.3 361.6,149.0 349.9,145.1 332.3,134.4 314.7,124.6 308.8,114.9 311.2,98.3" fill="#3d8cc4" fill-opacity="0.25"/><polygon points="300.6,88.5 317.1,78.8 335.8,86.6 335.8,108.0 319.4,123.6 303.0,125.6 293.6,113.9" fill="#3d8cc4" fill-opacity="0.29"/></g><g filter="url(#fb0)"><polygon points="312.4,76.8 321.7,71.0 338.1,69.0 342.8,90.5 326.4,88.5 314.7,84.7" fill="#3d8cc4" fill-opacity="0.42"/><polygon points="358.1,53.5 366.3,43.7 376.8,39.8 386.2,46.6 394.4,56.4 399.7,65.2 399.7,72.9 389.7,80.3 375.7,77.8 365.1,69.0 358.1,61.2" fill="#3d8cc4" fill-opacity="0.72"/><polygon points="345.2,32.5 355.7,30.5 368.6,34.0 379.2,39.8 367.4,44.7 358.1,53.5 359.2,62.2 351.0,60.3 344.0,52.5 340.5,44.7 342.8,37.9" fill="#3d8cc4" fill-opacity="0.60"/><polygon points="371.0,75.9 389.7,79.8 399.1,75.9 403.8,84.7 390.9,90.5 375.7,89.5 368.6,82.7" fill="#3d8cc4" fill-opacity="0.36"/><polygon points="403.2,61.2 410.8,56.9 420.2,58.8 428.4,65.2 431.9,77.8 435.4,92.4 440.1,100.2 420.2,96.3 402.6,92.4 385.0,88.5 376.8,83.7 390.9,82.7 401.4,78.8 403.8,70.0" fill="#3d8cc4" fill-opacity="0.37"/><polygon points="372.1,88.5 385.0,88.5 402.6,92.4 420.2,96.3 440.1,100.2 442.5,110.0 440.1,124.6 436.6,135.3 426.0,142.2 410.8,147.1 394.4,146.1 382.7,144.1 389.7,134.4 393.2,119.8 389.7,108.0 375.7,104.1 370.4,98.3" fill="#3d8cc4" fill-opacity="0.30"/><polygon points="321.7,72.0 331.1,68.6 349.9,67.1 362.8,68.1 369.8,74.9 373.3,84.7 369.8,92.4 359.2,92.4 342.8,90.5 326.4,86.6 317.1,80.8" fill="#3d8cc4" fill-opacity="0.30"/><polygon points="317.1,80.8 326.4,86.6 342.8,90.5 359.2,92.4 369.8,92.4 371.0,99.3 356.9,101.2 340.5,98.3 324.1,93.4 314.7,87.6" fill="#3d8cc4" fill-opacity="0.30"/><polygon points="355.7,149.0 362.8,144.1 373.3,138.3 382.7,143.1 394.4,146.1 403.8,145.1 392.1,150.0 378.0,153.9 368.6,157.8 361.6,155.8" fill="#3d8cc4" fill-opacity="0.30"/><polygon points="311.2,117.8 317.1,115.8 338.1,129.5 356.9,144.1 353.4,149.0 333.5,138.3 314.7,126.6" fill="#3d8cc4" fill-opacity="0.45"/><polygon points="313.5,72.9 321.7,69.0 332.3,69.5 338.1,72.9 333.5,79.8 324.1,84.7 314.7,86.6 310.0,80.8" fill="#3d8cc4" fill-opacity="0.45"/><polygon points="310.0,80.8 324.1,84.7 326.4,96.3 319.4,110.0 311.2,116.8 298.3,117.8 296.0,106.1 303.0,92.4" fill="#3d8cc4" fill-opacity="0.40"/><polygon points="267.2,119.3 273.7,116.3 287.8,118.3 300.6,113.4 312.4,114.9 314.7,120.7 310.0,125.6 300.6,129.0 286.6,131.0 275.4,126.6" fill="#3d8cc4" fill-opacity="0.72"/></g><g filter="url(#fb1s)"><polygon points="312.4,76.8 326.4,65.2 349.9,63.2 366.3,67.1 371.0,92.4 371.0,129.5 361.6,149.0 333.5,139.2 312.4,127.5 298.3,125.6 291.3,113.9 300.6,90.5" fill="#d8434f" fill-opacity="0.13"/><polygon points="366.3,80.8 389.7,81.7 402.6,61.2 412.0,54.4 424.9,57.3 431.9,65.2 435.4,80.8 438.9,95.4 444.8,108.0 442.5,127.5 437.8,138.3 426.0,145.1 410.8,150.0 392.1,149.0 385.0,154.8 366.3,159.7 356.9,150.9 367.4,139.2 366.3,110.0" fill="#d8434f" fill-opacity="0.16"/><polygon points="369.8,104.1 389.7,108.0 393.2,119.8 389.7,134.4 382.7,144.1 373.3,138.3 369.8,126.6" fill="#d8434f" fill-opacity="0.30"/><polygon points="317.1,80.8 342.8,90.5 369.8,92.4 369.8,126.6 373.3,138.3 361.6,149.0 349.9,145.1 332.3,134.4 314.7,124.6 308.8,114.9 311.2,98.3" fill="#d8434f" fill-opacity="0.22"/><polygon points="300.6,88.5 317.1,78.8 335.8,86.6 335.8,108.0 319.4,123.6 303.0,125.6 293.6,113.9" fill="#d8434f" fill-opacity="0.22"/></g><g filter="url(#fb1)"><polygon points="312.4,76.8 321.7,71.0 338.1,69.0 342.8,90.5 326.4,88.5 314.7,84.7" fill="#d8434f" fill-opacity="0.50"/><polygon points="358.1,53.5 366.3,43.7 376.8,39.8 386.2,46.6 394.4,56.4 399.7,65.2 399.7,72.9 389.7,80.3 375.7,77.8 365.1,69.0 358.1,61.2" fill="#d8434f" fill-opacity="0.30"/><polygon points="345.2,32.5 355.7,30.5 368.6,34.0 379.2,39.8 367.4,44.7 358.1,53.5 359.2,62.2 351.0,60.3 344.0,52.5 340.5,44.7 342.8,37.9" fill="#d8434f" fill-opacity="0.30"/><polygon points="371.0,75.9 389.7,79.8 399.1,75.9 403.8,84.7 390.9,90.5 375.7,89.5 368.6,82.7" fill="#d8434f" fill-opacity="0.45"/><polygon points="403.2,61.2 410.8,56.9 420.2,58.8 428.4,65.2 431.9,77.8 435.4,92.4 440.1,100.2 420.2,96.3 402.6,92.4 385.0,88.5 376.8,83.7 390.9,82.7 401.4,78.8 403.8,70.0" fill="#d8434f" fill-opacity="0.45"/><polygon points="372.1,88.5 385.0,88.5 402.6,92.4 420.2,96.3 440.1,100.2 442.5,110.0 440.1,124.6 436.6,135.3 426.0,142.2 410.8,147.1 394.4,146.1 382.7,144.1 389.7,134.4 393.2,119.8 389.7,108.0 375.7,104.1 370.4,98.3" fill="#d8434f" fill-opacity="0.54"/><polygon points="372.1,88.5 385.0,88.5 402.6,92.4 420.2,96.3 431.9,98.3 429.6,106.1 408.5,104.1 390.9,103.2 373.3,104.1 370.4,98.3" fill="#d8434f" fill-opacity="0.39"/><polygon points="394.4,104.1 429.6,106.1 442.5,110.0 440.1,124.6 436.6,135.3 426.0,142.2 410.8,147.1 394.4,146.1 387.4,139.2 394.4,127.5 396.7,114.9" fill="#d8434f" fill-opacity="0.43"/><polygon points="321.7,72.0 331.1,68.6 349.9,67.1 362.8,68.1 369.8,74.9 373.3,84.7 369.8,92.4 359.2,92.4 342.8,90.5 326.4,86.6 317.1,80.8" fill="#d8434f" fill-opacity="0.72"/><polygon points="317.1,80.8 326.4,86.6 342.8,90.5 359.2,92.4 369.8,92.4 371.0,99.3 356.9,101.2 340.5,98.3 324.1,93.4 314.7,87.6" fill="#d8434f" fill-opacity="0.42"/><polygon points="355.7,149.0 362.8,144.1 373.3,138.3 382.7,143.1 394.4,146.1 403.8,145.1 392.1,150.0 378.0,153.9 368.6,157.8 361.6,155.8" fill="#d8434f" fill-opacity="0.62"/><polygon points="311.2,117.8 317.1,115.8 338.1,129.5 356.9,144.1 353.4,149.0 333.5,138.3 314.7,126.6" fill="#d8434f" fill-opacity="0.40"/><polygon points="313.5,72.9 321.7,69.0 332.3,69.5 338.1,72.9 333.5,79.8 324.1,84.7 314.7,86.6 310.0,80.8" fill="#d8434f" fill-opacity="0.40"/><polygon points="310.0,80.8 324.1,84.7 326.4,96.3 319.4,110.0 311.2,116.8 298.3,117.8 296.0,106.1 303.0,92.4" fill="#d8434f" fill-opacity="0.33"/><polygon points="267.2,119.3 273.7,116.3 287.8,118.3 300.6,113.4 312.4,114.9 314.7,120.7 310.0,125.6 300.6,129.0 286.6,131.0 275.4,126.6" fill="#d8434f" fill-opacity="0.36"/></g><path d="M292.4,131.9 L297.1,134.4 L294.2,138.3 L297.1,141.7 L300.6,143.6" fill="none" stroke="#d8434f" stroke-width="0.8" stroke-dasharray="1.2 0.6"/><path d="M356.6,93 V131" fill="none" stroke="#d8434f" stroke-width="0.6" stroke-dasharray="0.7 1.1" opacity="0.8"/><path d="M356.4,129 L355.2,136 L354.4,142.4" fill="none" stroke="#d8434f" stroke-width="0.9" opacity="0.9"/><text x="257.30" y="16.50" font-size="11.4" text-anchor="start" fill="#000" font-weight="bold">B</text><text x="354.70" y="26.20" font-size="8.7" text-anchor="middle" fill="#2b2728" font-weight="normal">Tissue type</text><circle cx="445" cy="35.5" r="3" fill="#3d8cc4"/><text x="451.70" y="37.70" font-size="6.5" text-anchor="start" fill="#2b2728" font-weight="normal">Bone Marrow</text><text x="451.70" y="45.90" font-size="6.5" text-anchor="start" fill="#2b2728" font-weight="normal">n = 11,935 cells</text><circle cx="445" cy="53.0" r="3" fill="#d8434f"/><text x="451.70" y="55.20" font-size="6.5" text-anchor="start" fill="#2b2728" font-weight="normal">Focal Lesion</text><text x="451.70" y="63.40" font-size="6.5" text-anchor="start" fill="#2b2728" font-weight="normal">n = 23,913 cells</text><g clip-path="url(#clipm0)"><g filter="url(#fm0_6)"><polygon points="10.4,243.0 23.5,240.9 26.3,244.1 22.6,248.3 14.2,249.8" fill="#2f86c0" fill-opacity="0.36"/></g><g filter="url(#fm0_1)"><polygon points="58.2,244.1 62.9,242.0 66.1,246.7 63.8,252.5 59.1,251.4" fill="#d8434f" fill-opacity="0.4"/><polygon points="49.3,234.6 70.3,232.0 75.0,247.7 65.7,258.8 52.6,255.6" fill="#d8434f" fill-opacity="0.12"/></g></g><text x="43.85" y="190.60" font-size="9" text-anchor="middle" fill="#2b2728" font-weight="normal">Healthy BM</text><text x="9.90" y="267.00" font-size="6.7" text-anchor="start" fill="#2b2728" font-weight="normal">n = 410 cells</text><g clip-path="url(#clipm1)"><g filter="url(#fm1_5s)"><polygon points="100.4,222.0 106.0,215.7 115.4,214.7 121.9,215.7 124.7,222.0 125.7,230.4 124.7,245.1 125.7,255.6 131.3,259.8 136.0,259.8 129.4,264.0 121.9,266.6 117.2,263.0 107.9,255.6 100.4,249.3 97.6,243.0 98.5,232.5" fill="#5fb59b" fill-opacity="0.10"/><polygon points="102.3,224.1 112.6,229.4 123.3,230.4 123.3,248.8 124.7,255.1 120.0,260.9 115.4,258.8 108.3,253.0 101.3,247.7 99.0,242.5 99.9,233.6" fill="#5fb59b" fill-opacity="0.14"/></g><g filter="url(#fm1_5)"><polygon points="104.1,219.4 107.9,217.5 115.4,216.8 120.5,217.3 123.3,221.0 124.7,226.2 123.3,230.4 119.1,230.4 112.6,229.4 106.0,227.3 102.3,224.1" fill="#5fb59b" fill-opacity="0.70"/><polygon points="102.3,224.1 106.0,227.3 112.6,229.4 119.1,230.4 123.3,230.4 123.8,234.1 118.2,235.1 111.6,233.6 105.1,230.9 101.3,227.8" fill="#5fb59b" fill-opacity="0.45"/><polygon points="117.7,260.9 120.5,258.2 124.7,255.1 128.5,257.7 133.1,259.3 136.9,258.8 132.2,261.4 126.6,263.5 122.8,265.6 120.0,264.5" fill="#5fb59b" fill-opacity="0.41"/><polygon points="99.9,244.1 102.3,243.0 110.7,250.4 118.2,258.2 116.8,260.9 108.8,255.1 101.3,248.8" fill="#5fb59b" fill-opacity="0.26"/></g><g filter="url(#fm1_6s)"><polygon points="95.7,228.3 102.3,223.1 109.7,227.3 109.7,238.8 103.2,247.2 96.6,248.3 92.9,242.0" fill="#2f86c0" fill-opacity="0.35"/></g><g filter="url(#fm1_6)"><polygon points="100.9,219.9 104.1,217.8 108.3,218.1 110.7,219.9 108.8,223.6 105.1,226.2 101.3,227.3 99.4,224.1" fill="#2f86c0" fill-opacity="0.59"/><polygon points="99.4,224.1 105.1,226.2 106.0,232.5 103.2,239.9 99.9,243.5 94.8,244.1 93.8,237.8 96.6,230.4" fill="#2f86c0" fill-opacity="0.47"/><polygon points="82.4,244.8 84.9,243.3 90.6,244.3 95.7,241.7 100.4,242.5 101.3,245.6 99.4,248.3 95.7,250.1 90.1,251.2 85.6,248.8" fill="#2f86c0" fill-opacity="0.43"/></g><g filter="url(#fm1_1s)"><polygon points="112.6,197.9 118.2,196.3 124.7,198.9 131.3,205.2 136.0,211.5 140.2,209.9 145.3,211.5 148.1,215.7 149.5,224.1 150.9,232.0 153.3,238.8 152.3,249.3 150.5,255.1 145.8,258.8 139.7,261.4 132.2,260.9 125.7,257.2 122.4,251.4 121.9,239.9 122.8,230.4 121.9,224.1 118.2,217.8 114.4,212.6 111.6,205.2" fill="#d8434f" fill-opacity="0.15"/></g><g filter="url(#fm1_1)"><polygon points="118.6,209.4 121.9,204.2 126.1,202.1 129.9,205.7 133.1,211.0 135.2,215.7 135.2,219.9 131.3,223.8 125.7,222.5 121.4,217.8 118.6,213.6" fill="#d8434f" fill-opacity="0.75"/><polygon points="113.5,198.1 117.7,197.1 122.8,198.9 127.1,202.1 122.4,204.7 118.6,209.4 119.1,214.1 115.8,213.1 113.0,208.9 111.6,204.7 112.6,201.0" fill="#d8434f" fill-opacity="0.53"/><polygon points="123.8,221.5 131.3,223.6 135.0,221.5 136.9,226.2 131.7,229.4 125.7,228.8 122.8,225.2" fill="#d8434f" fill-opacity="0.50"/><polygon points="136.7,213.6 139.7,211.2 143.4,212.3 146.7,215.7 148.1,222.5 149.5,230.4 151.4,234.6 143.4,232.5 136.4,230.4 129.4,228.3 126.1,225.7 131.7,225.2 136.0,223.1 136.9,218.3" fill="#d8434f" fill-opacity="0.44"/><polygon points="124.3,228.3 129.4,228.3 136.4,230.4 143.4,232.5 151.4,234.6 152.3,239.9 151.4,247.7 150.0,253.5 145.8,257.2 139.7,259.8 133.1,259.3 128.5,257.7 124.7,255.1 123.3,248.8 123.1,240.9 123.6,233.6" fill="#d8434f" fill-opacity="0.51"/><polygon points="124.3,228.3 129.4,228.3 136.4,230.4 143.4,232.5 148.1,233.6 147.2,237.8 138.8,236.7 131.7,236.2 124.7,236.7 123.6,233.6" fill="#d8434f" fill-opacity="0.47"/><polygon points="133.1,236.7 147.2,237.8 152.3,239.9 151.4,247.7 150.0,253.5 145.8,257.2 139.7,259.8 133.1,259.3 130.3,255.6 133.1,249.3 134.1,242.5" fill="#d8434f" fill-opacity="0.06"/></g></g><text x="117.00" y="190.60" font-size="9" text-anchor="middle" fill="#2b2728" font-weight="normal">NDMM</text><text x="83.00" y="267.00" font-size="6.7" text-anchor="start" fill="#2b2728" font-weight="normal">n = 25,104 cells</text><g clip-path="url(#clipm2)"><g filter="url(#fm2_5s)"><polygon points="170.0,232.0 186.0,226.0 192.0,240.0 194.0,256.0 184.0,256.0 176.0,250.0" fill="#5fb59b" fill-opacity="0.20"/></g><g filter="url(#fm2_5)"><polygon points="172.5,246.0 178.0,241.5 184.0,244.5 183.5,251.5 176.0,253.0" fill="#5fb59b" fill-opacity="0.64"/><polygon points="195.5,262.0 201.0,260.5 207.0,263.0 203.0,266.5 197.0,266.0" fill="#5fb59b" fill-opacity="0.66"/></g><g filter="url(#fm2_6s)"><polygon points="164.0,238.0 176.0,230.0 182.0,238.0 176.0,246.0 168.0,246.0" fill="#2f86c0" fill-opacity="0.22"/></g><g filter="url(#fm2_6)"><polygon points="155.5,245.0 160.0,243.0 166.0,245.5 172.0,242.0 174.0,246.0 170.0,250.0 163.0,252.0 158.0,249.5" fill="#2f86c0" fill-opacity="0.74"/></g><g filter="url(#fm2_1s)"><polygon points="191.0,228.0 198.0,214.0 206.0,211.0 214.0,212.0 220.0,222.0 224.0,240.0 225.0,254.0 200.0,256.0 193.0,246.0" fill="#d8434f" fill-opacity="0.34"/><polygon points="200.0,246.0 208.0,238.0 222.0,232.0 225.0,246.0 212.0,250.0" fill="#d8434f" fill-opacity="0.30"/><polygon points="184.0,214.0 196.0,206.0 206.0,210.0 198.0,222.0 190.0,228.0" fill="#d8434f" fill-opacity="0.17"/></g><g filter="url(#fm2_1)"><polygon points="197.3,253.5 204.0,249.5 210.0,247.0 223.3,243.5 224.8,253.0 220.0,261.0 211.0,263.0 202.0,262.0 196.5,257.8" fill="#d8434f" fill-opacity="0.80"/></g></g><text x="190.90" y="190.60" font-size="9" text-anchor="middle" fill="#2b2728" font-weight="normal">RRMM</text><text x="156.20" y="267.00" font-size="6.7" text-anchor="start" fill="#2b2728" font-weight="normal">n = 20,334 cells</text><rect x="7.3" y="195.2" width="220.9" height="73.7" fill="none" stroke="#111" stroke-width="0.8"/><path d="M80.4,195.2 V268.9 M153.6,195.2 V268.9" stroke="#111" stroke-width="0.8"/><text x="257.40" y="182.00" font-size="11.4" text-anchor="start" fill="#000" font-weight="bold">D</text><rect x="312.4" y="185.6" width="85" height="15.1" fill="#fbe3a1"/><text x="354.8" y="195.2" font-size="6.9" text-anchor="middle" fill="#231f20">CXCR2<tspan dy="-2.2" font-size="4">+</tspan><tspan dy="2.2"> Neutrophil</tspan></text><path d="M354.8,200.7 V225 M295.2,225 V213.4 H414.6 V225" fill="none" stroke="#111" stroke-width="0.8"/><path d="M295.2,228.8 L292.7,223 L297.7,223 Z" fill="#111"/><path d="M354.8,228.8 L352.3,223 L357.3,223 Z" fill="#111"/><path d="M414.6,228.8 L412.1,223 L417.1,223 Z" fill="#111"/><rect x="269.7" y="229.8" width="51" height="34" fill="#c8102e"/><text x="295.2" y="240.1" font-size="6.6" text-anchor="middle" fill="#fff">CD10<tspan dy="-2.2" font-size="4">+</tspan></text><text x="295.2" y="248.5" font-size="6.6" text-anchor="middle" fill="#fff">TREM1<tspan dy="-2.2" font-size="4">+</tspan></text><text x="295.20" y="256.90" font-size="6.5" text-anchor="middle" fill="#fff" font-weight="normal">Cluster 1</text><rect x="329.4" y="229.8" width="51" height="34" fill="#2daa4a"/><text x="354.9" y="240.1" font-size="6.6" text-anchor="middle" fill="#fff">TNFAIP3<tspan dy="-2.2" font-size="4">+</tspan></text><text x="354.9" y="248.5" font-size="6.6" text-anchor="middle" fill="#fff">CXCL8<tspan dy="-2.2" font-size="4">+</tspan></text><text x="354.90" y="256.90" font-size="6.5" text-anchor="middle" fill="#fff" font-weight="normal">Cluster 5</text><rect x="388.5" y="229.8" width="51" height="34" fill="#1a559d"/><text x="414.0" y="240.1" font-size="6.6" text-anchor="middle" fill="#fff">Resistin<tspan dy="-2.2" font-size="4">+</tspan></text><text x="414.0" y="248.5" font-size="6.6" text-anchor="middle" fill="#fff">LCN2<tspan dy="-2.2" font-size="4">+</tspan></text><text x="414.00" y="256.90" font-size="6.5" text-anchor="middle" fill="#fff" font-weight="normal">Cluster 6</text><text x="8.30" y="294.60" font-size="11.4" text-anchor="start" fill="#000" font-weight="bold">C</text><path d="M45.2,296.7 V571.8 H101.5" fill="none" stroke="#222" stroke-width="1"/><text x="38.80" y="306.60" font-size="5.9" text-anchor="end" fill="#333" font-weight="normal">PGLYRP1</text><circle cx="55.2" cy="304.5" r="1.7" fill="#8a7f93"/><circle cx="73.3" cy="304.5" r="0.5" fill="#5a5368"/><circle cx="91.4" cy="304.5" r="3.5" fill="#cf2030"/><text x="38.80" y="317.94" font-size="5.9" text-anchor="end" fill="#333" font-weight="normal">MMP9</text><circle cx="55.2" cy="315.8" r="1.8" fill="#8a7f93"/><circle cx="73.3" cy="315.8" r="0.6" fill="#5a5368"/><circle cx="91.4" cy="315.8" r="3.5" fill="#cf2030"/><text x="38.80" y="329.28" font-size="5.9" text-anchor="end" fill="#333" font-weight="normal">RETN</text><circle cx="55.2" cy="327.2" r="0.5" fill="#5a5368"/><circle cx="73.3" cy="327.2" r="0.4" fill="#d9d3dc"/><circle cx="91.4" cy="327.2" r="2.5" fill="#cf2030"/><text x="38.80" y="340.62" font-size="5.9" text-anchor="end" fill="#333" font-weight="normal">SYNE1</text><circle cx="55.2" cy="338.5" r="0.6" fill="#7a5a8f"/><circle cx="73.3" cy="338.5" r="0.8" fill="#5a5368"/><circle cx="91.4" cy="338.5" r="3.0" fill="#cf2030"/><text x="38.80" y="351.96" font-size="5.9" text-anchor="end" fill="#333" font-weight="normal">LCN2</text><circle cx="55.2" cy="349.9" r="0.6" fill="#7a5a8f"/><circle cx="73.3" cy="349.9" r="0.4" fill="#d9d3dc"/><circle cx="91.4" cy="349.9" r="3.3" fill="#cf2030"/><text x="38.80" y="363.30" font-size="5.9" text-anchor="end" fill="#333" font-weight="normal">CRISP3</text><circle cx="55.2" cy="361.2" r="0.4" fill="#d9d3dc"/><circle cx="73.3" cy="361.2" r="0.4" fill="#d9d3dc"/><circle cx="91.4" cy="361.2" r="1.7" fill="#cf2030"/><text x="38.80" y="374.64" font-size="5.9" text-anchor="end" fill="#333" font-weight="normal">CD24</text><circle cx="55.2" cy="372.5" r="0.4" fill="#d9d3dc"/><circle cx="73.3" cy="372.5" r="0.4" fill="#d9d3dc"/><circle cx="91.4" cy="372.5" r="1.2" fill="#cf2030"/><text x="38.80" y="385.98" font-size="5.9" text-anchor="end" fill="#333" font-weight="normal">MMP8</text><circle cx="55.2" cy="383.9" r="0.4" fill="#d9d3dc"/><circle cx="73.3" cy="383.9" r="0.4" fill="#d9d3dc"/><circle cx="91.4" cy="383.9" r="1.5" fill="#cf2030"/><text x="38.80" y="397.32" font-size="5.9" text-anchor="end" fill="#333" font-weight="normal">IRF2BP2</text><circle cx="55.2" cy="395.2" r="0.8" fill="#5a5368"/><circle cx="73.3" cy="395.2" r="1.5" fill="#cf2030"/><circle cx="91.4" cy="395.2" r="0.6" fill="#7a5a8f"/><text x="38.80" y="408.66" font-size="5.9" text-anchor="end" fill="#333" font-weight="normal">JUN</text><circle cx="55.2" cy="406.6" r="0.8" fill="#5a5368"/><circle cx="73.3" cy="406.6" r="1.6" fill="#cf2030"/><circle cx="91.4" cy="406.6" r="0.8" fill="#5a5368"/><text x="38.80" y="420.00" font-size="5.9" text-anchor="end" fill="#333" font-weight="normal">BHLHE40</text><circle cx="55.2" cy="417.9" r="0.4" fill="#d9d3dc"/><circle cx="73.3" cy="417.9" r="1.1" fill="#cf2030"/><circle cx="91.4" cy="417.9" r="0.4" fill="#d9d3dc"/><text x="38.80" y="431.34" font-size="5.9" text-anchor="end" fill="#333" font-weight="normal">MCLON1</text><circle cx="55.2" cy="429.2" r="0.8" fill="#5a5368"/><circle cx="73.3" cy="429.2" r="1.4" fill="#cf2030"/><circle cx="91.4" cy="429.2" r="0.8" fill="#5a5368"/><text x="38.80" y="442.68" font-size="5.9" text-anchor="end" fill="#333" font-weight="normal">TNFAIP3</text><circle cx="55.2" cy="440.6" r="0.6" fill="#7a5a8f"/><circle cx="73.3" cy="440.6" r="2.7" fill="#cf2030"/><circle cx="91.4" cy="440.6" r="0.8" fill="#5a5368"/><text x="38.80" y="454.02" font-size="5.9" text-anchor="end" fill="#333" font-weight="normal">IER3</text><circle cx="55.2" cy="451.9" r="0.6" fill="#7a5a8f"/><circle cx="73.3" cy="451.9" r="3.0" fill="#cf2030"/><circle cx="91.4" cy="451.9" r="0.8" fill="#5a5368"/><text x="38.80" y="465.36" font-size="5.9" text-anchor="end" fill="#333" font-weight="normal">CXCL8</text><circle cx="55.2" cy="463.3" r="2.2" fill="#8a7f93"/><circle cx="73.3" cy="463.3" r="4.7" fill="#cf2030"/><circle cx="91.4" cy="463.3" r="1.0" fill="#7a5a8f"/><text x="38.80" y="476.70" font-size="5.9" text-anchor="end" fill="#333" font-weight="normal">VEGFA</text><circle cx="55.2" cy="474.6" r="0.4" fill="#d9d3dc"/><circle cx="73.3" cy="474.6" r="1.2" fill="#cf2030"/><circle cx="91.4" cy="474.6" r="0.4" fill="#d9d3dc"/><text x="38.80" y="488.04" font-size="5.9" text-anchor="end" fill="#333" font-weight="normal">S1PR4</text><circle cx="55.2" cy="485.9" r="1.5" fill="#cf2030"/><circle cx="73.3" cy="485.9" r="0.8" fill="#5a5368"/><circle cx="91.4" cy="485.9" r="0.8" fill="#5a5368"/><text x="38.80" y="499.38" font-size="5.9" text-anchor="end" fill="#333" font-weight="normal">MME</text><circle cx="55.2" cy="497.3" r="2.5" fill="#cf2030"/><circle cx="73.3" cy="497.3" r="1.3" fill="#8a7f93"/><circle cx="91.4" cy="497.3" r="1.2" fill="#5f6fb5"/><text x="38.80" y="510.72" font-size="5.9" text-anchor="end" fill="#333" font-weight="normal">CTDSP2</text><circle cx="55.2" cy="508.6" r="1.0" fill="#cf2030"/><circle cx="73.3" cy="508.6" r="0.8" fill="#5a5368"/><circle cx="91.4" cy="508.6" r="0.8" fill="#5a5368"/><text x="38.80" y="522.06" font-size="5.9" text-anchor="end" fill="#333" font-weight="normal">TLR8</text><circle cx="55.2" cy="520.0" r="1.5" fill="#cf2030"/><circle cx="73.3" cy="520.0" r="0.8" fill="#5a5368"/><circle cx="91.4" cy="520.0" r="0.8" fill="#5a5368"/><text x="38.80" y="533.40" font-size="5.9" text-anchor="end" fill="#333" font-weight="normal">FRAT1</text><circle cx="55.2" cy="531.3" r="1.2" fill="#cf2030"/><circle cx="73.3" cy="531.3" r="0.8" fill="#5a5368"/><circle cx="91.4" cy="531.3" r="0.8" fill="#5a5368"/><text x="38.80" y="544.74" font-size="5.9" text-anchor="end" fill="#333" font-weight="normal">LAMTOR4</text><circle cx="55.2" cy="542.6" r="2.7" fill="#cf2030"/><circle cx="73.3" cy="542.6" r="1.1" fill="#7a5a8f"/><circle cx="91.4" cy="542.6" r="1.0" fill="#7a5a8f"/><text x="38.80" y="556.08" font-size="5.9" text-anchor="end" fill="#333" font-weight="normal">TRANK1</text><circle cx="55.2" cy="554.0" r="0.9" fill="#cf2030"/><circle cx="73.3" cy="554.0" r="0.4" fill="#d9d3dc"/><circle cx="91.4" cy="554.0" r="0.4" fill="#d9d3dc"/><text x="38.80" y="567.42" font-size="5.9" text-anchor="end" fill="#333" font-weight="normal">TNFSF10</text><circle cx="55.2" cy="565.3" r="2.0" fill="#cf2030"/><circle cx="73.3" cy="565.3" r="0.8" fill="#5a5368"/><circle cx="91.4" cy="565.3" r="0.8" fill="#5a5368"/><path d="M45.2,304.5 h-3.2M45.2,315.8 h-3.2M45.2,327.2 h-3.2M45.2,338.5 h-3.2M45.2,349.9 h-3.2M45.2,361.2 h-3.2M45.2,372.5 h-3.2M45.2,383.9 h-3.2M45.2,395.2 h-3.2M45.2,406.6 h-3.2M45.2,417.9 h-3.2M45.2,429.2 h-3.2M45.2,440.6 h-3.2M45.2,451.9 h-3.2M45.2,463.3 h-3.2M45.2,474.6 h-3.2M45.2,485.9 h-3.2M45.2,497.3 h-3.2M45.2,508.6 h-3.2M45.2,520.0 h-3.2M45.2,531.3 h-3.2M45.2,542.6 h-3.2M45.2,554.0 h-3.2M45.2,565.3 h-3.2M55.2,572 v3.2M73.3,572 v3.2M91.4,572 v3.2" stroke="#222" stroke-width="0.8" fill="none"/><text x="0.00" y="0.00" font-size="6.5" text-anchor="end" fill="#333" font-weight="normal" transform="translate(58.60 582.40) rotate(-45)">TREM1+ MME+</text><text x="0.00" y="0.00" font-size="6.5" text-anchor="end" fill="#333" font-weight="normal" transform="translate(76.70 582.40) rotate(-45)">TNFAIP3 + CXCL8 +</text><text x="0.00" y="0.00" font-size="6.5" text-anchor="end" fill="#333" font-weight="normal" transform="translate(94.80 582.40) rotate(-45)">RETN + LCN2 +</text><text x="84.00" y="621.90" font-size="6.5" text-anchor="middle" fill="#333" font-weight="normal">Avg L2FC</text><rect x="64.3" y="626" width="39.2" height="7.2" fill="url(#l2fc)"/><text x="64.00" y="641.20" font-size="5.9" text-anchor="start" fill="#333" font-weight="normal">−0.5</text><text x="81.60" y="641.20" font-size="5.9" text-anchor="middle" fill="#333" font-weight="normal">0</text><text x="86.60" y="641.20" font-size="5.9" text-anchor="start" fill="#333" font-weight="normal">0.51.0</text><text x="84.30" y="651.00" font-size="6.4" text-anchor="middle" fill="#333" font-weight="normal">% Expressed</text><circle cx="71.2" cy="660.7" r="2.3" fill="#111"/><text x="71.20" y="674.40" font-size="5.9" text-anchor="middle" fill="#333" font-weight="normal">25</text><circle cx="81.6" cy="660.7" r="3.7" fill="#111"/><text x="81.60" y="674.40" font-size="5.9" text-anchor="middle" fill="#333" font-weight="normal">50</text><circle cx="95.7" cy="660.7" r="5.3" fill="#111"/><text x="95.70" y="674.40" font-size="5.9" text-anchor="middle" fill="#333" font-weight="normal">75</text><text x="124.80" y="294.60" font-size="11.4" text-anchor="start" fill="#000" font-weight="bold">E</text><rect x="137.2" y="320.6" width="81.4" height="82.2" fill="#fff" stroke="#8a8a8a" stroke-width="0.55"/><text x="178.70" y="315.60" font-size="9.1" text-anchor="middle" fill="#2b2728" font-weight="normal">Neutrophil selection</text><text x="188.60" y="329.80" font-size="6.8" text-anchor="middle" fill="#2b2728" font-weight="normal">77.9</text><g fill="#f5a9ad" fill-opacity="0.4" stroke="#e8323a" stroke-width="0.5" opacity="0.78" filter="url(#soft)"><path d="M151.4,358 C151.4,355 155.2,355 155.2,358 L154.4,376 L155.4,393 C155.4,397.4 151.2,397.4 151.2,393 L152.2,376 Z"/><path d="M152.6,360 L153,376 L152.4,392 M154,360 L153.8,376 L154.2,392" fill="none"/><path d="M156.8,377.4 C157.4,372 163,366.4 169.6,363.6 C171,365.2 166,371 161,376.4 C159,378.6 156.6,379.4 156.8,377.4 Z"/><path d="M159,375.4 C161,371.4 164.4,368 167.6,365.6" fill="none"/><path d="M173,353.4 C178,350 186,347 191,344.4 C196,341.6 203.4,343.4 203.6,351 C203.8,357.8 198,359.4 192,358.2 C185,357 178,358.4 173,357.2 Z"/><path d="M177,353.6 C182,351.4 188,349 192,346.6 C196.4,344 201.6,345.6 201.8,351 C202,356.2 197.6,357.6 193,356.6 C187,355.6 181,356.4 177,355.6 Z"/><ellipse cx="197" cy="351.2" rx="4.6" ry="5.8"/><ellipse cx="197.2" cy="351.2" rx="3.4" ry="4.5"/></g><ellipse cx="197.2" cy="351.2" rx="2.5" ry="3.5" fill="#e8323a" opacity="0.75"/><ellipse cx="197.3" cy="351.4" rx="0.9" ry="1.5" fill="#f8b0a0"/><path d="M188.6,387.1h.01M199.3,397.1h.01M195.9,396.1h.01M151.8,373.3h.01M208.5,382.4h.01M205.9,355.7h.01M179.1,362.3h.01M183.7,378.7h.01M150.8,360.8h.01M167.3,395.8h.01M197.5,358.0h.01M199.4,356.9h.01M188.3,356.3h.01M150.1,393.6h.01M163.0,360.8h.01M210.9,393.6h.01M167.9,398.1h.01M183.4,383.9h.01M162.7,397.0h.01M192.8,398.3h.01M205.4,364.9h.01M172.4,358.3h.01M159.0,353.3h.01M168.7,380.2h.01M150.2,383.9h.01M170.9,365.5h.01M200.7,374.0h.01M169.6,374.1h.01M193.7,352.9h.01M210.5,351.1h.01M196.5,392.2h.01M151.1,389.4h.01M172.7,378.9h.01M150.6,352.3h.01M161.2,397.8h.01M162.2,387.8h.01M207.6,397.1h.01M171.4,367.7h.01M182.5,388.8h.01M156.7,387.4h.01M199.4,393.0h.01M152.3,397.3h.01M155.7,367.0h.01M187.9,395.9h.01M171.1,396.2h.01M157.3,376.1h.01M159.9,382.6h.01M163.3,380.1h.01M155.3,352.9h.01M161.7,380.1h.01M166.5,377.2h.01M158.2,381.3h.01M154.0,369.7h.01M156.5,380.3h.01M170.4,384.1h.01M166.1,379.9h.01M162.3,374.4h.01M159.7,358.6h.01M155.6,367.7h.01M164.8,383.3h.01M166.1,390.4h.01M159.6,386.4h.01M169.8,377.9h.01M165.9,376.7h.01M153.7,379.0h.01M157.3,378.9h.01M158.9,380.6h.01M151.4,394.7h.01M167.1,375.2h.01M156.9,378.0h.01M164.0,381.4h.01M162.8,362.2h.01M155.9,388.7h.01M162.1,365.8h.01M157.1,366.4h.01M156.4,387.5h.01M160.0,387.1h.01M161.9,365.8h.01M158.0,396.6h.01M157.5,369.5h.01M166.6,378.7h.01M161.0,389.9h.01M152.9,381.4h.01M156.2,366.6h.01M157.3,387.4h.01M180.6,361.1h.01M179.2,370.0h.01M182.3,363.1h.01M184.3,365.0h.01M179.1,365.6h.01M182.1,370.3h.01M182.3,364.9h.01M180.0,362.1h.01M180.7,364.4h.01M181.2,362.6h.01M180.1,363.7h.01M179.1,362.9h.01M179.3,362.9h.01M181.6,366.3h.01M178.9,367.4h.01M181.2,369.9h.01M180.5,365.4h.01M179.8,366.3h.01M181.5,366.5h.01M180.4,367.5h.01M180.9,366.7h.01M179.5,366.5h.01" stroke="#e8323a" stroke-width="0.6" stroke-linecap="round" opacity="0.4" fill="none"/><rect x="171.2" y="336.6" width="34.7" height="24.2" fill="none" stroke="#555" stroke-width="0.6"/><text x="0.00" y="0.00" font-size="8.5" text-anchor="middle" fill="#2b2728" font-weight="normal" transform="translate(132.60 361.00) rotate(-90) scale(0.75 1)">CD11b</text><text x="0.00" y="0.00" font-size="8.5" text-anchor="middle" fill="#2b2728" font-weight="normal" transform="translate(176.00 413.80) scale(0.75 1)">C5AR1 (CD88)</text><rect x="235.6" y="320.6" width="83.1" height="82.0" fill="#fff" stroke="#8a8a8a" stroke-width="0.55"/><text x="277.40" y="315.60" font-size="9.1" text-anchor="middle" fill="#2b2728" font-weight="normal">Mature Neutrophil</text><text x="284.40" y="330.00" font-size="6.8" text-anchor="middle" fill="#2b2728" font-weight="normal">92.8</text><g fill="#f5a9ad" fill-opacity="0.35" stroke="#e8323a" stroke-width="0.5" opacity="0.7" filter="url(#soft)"><circle cx="284.2" cy="351" r="7.8"/><circle cx="284.2" cy="351" r="6.4"/><circle cx="270.4" cy="358.7" r="3.4"/><circle cx="270.4" cy="358.7" r="2.2"/><ellipse cx="285.8" cy="362.6" rx="3.8" ry="3.2"/><ellipse cx="291.4" cy="355" rx="3.4" ry="5"/><path d="M267,359 C273,362.4 280,360.6 283,359.4" fill="none"/></g><circle cx="284.2" cy="351" r="6.6" fill="url(#blob)"/><circle cx="284.4" cy="351" r="0.9" fill="#f7c07a"/><path d="M269.8,357.1h.01M281.6,381.2h.01M290.2,364.0h.01M278.2,372.1h.01M294.1,374.0h.01M278.1,365.5h.01M276.6,361.7h.01M271.3,362.0h.01M258.0,354.2h.01M284.4,356.4h.01M285.5,353.4h.01M276.2,367.2h.01M269.4,358.2h.01M305.3,358.4h.01M272.8,359.3h.01M280.3,363.8h.01M290.1,370.5h.01M275.9,361.1h.01M265.5,351.8h.01M272.4,370.0h.01M281.2,370.6h.01M289.6,362.7h.01M301.5,359.7h.01M273.6,360.5h.01M291.6,362.9h.01M272.4,367.6h.01M291.6,363.1h.01M277.4,372.9h.01M290.1,371.7h.01M272.2,366.3h.01M283.7,349.3h.01M292.3,364.8h.01M276.5,382.5h.01M281.5,358.1h.01M279.4,368.6h.01M288.3,363.5h.01" stroke="#e8323a" stroke-width="0.6" stroke-linecap="round" opacity="0.3" fill="none"/><rect x="262.6" y="338.6" width="38.2" height="22.8" fill="none" stroke="#555" stroke-width="0.6"/><text x="0.00" y="0.00" font-size="8.5" text-anchor="middle" fill="#2b2728" font-weight="normal" transform="translate(231.40 361.60) rotate(-90) scale(0.75 1)">CXCR2</text><text x="0.00" y="0.00" font-size="8.5" text-anchor="middle" fill="#2b2728" font-weight="normal" transform="translate(277.80 414.00) scale(0.75 1)">CXCL8</text><path d="M205.9,339.3 H256 M301,339.3 H330" stroke="#ad1a32" stroke-width="1" fill="none"/><path d="M262.2,339.3 L253,335.8 L255.6,339.3 L253,342.8 Z M335.6,339.3 L326.4,335.8 L329,339.3 L326.4,342.8 Z" fill="#ad1a32"/><rect x="334.4" y="320.6" width="83.3" height="82.0" fill="#fff" stroke="#8a8a8a" stroke-width="0.55"/><text x="376.00" y="305.60" font-size="8.6" text-anchor="middle" fill="#2b2728" font-weight="normal">TNFAIP3/MME</text><text x="376.00" y="315.40" font-size="8.6" text-anchor="middle" fill="#2b2728" font-weight="normal">status</text><g fill="#f5a9ad" fill-opacity="0.45" stroke="#e8323a" stroke-width="0.5" opacity="0.78" filter="url(#soft)"><path d="M345.2,346.8 L349,344.2 L352,345.4 C362,344.4 375,343.6 386,342.8 C390,341 396.4,341.6 398.4,346.8 C397.8,352 391,353 386,351 C375,350.4 362,349.6 352,348.6 L349,349.6 Z"/><path d="M352,346.8 C362,346 376,345.6 386,345.2 M352,347.4 C362,348 376,348.2 386,348.6" fill="none"/><circle cx="392" cy="346.8" r="7"/><ellipse cx="382.4" cy="364.8" rx="3.6" ry="4.8"/><ellipse cx="382.8" cy="364.8" rx="2.4" ry="3.6"/><path d="M370,364.6 L378.6,364.2 M372,365.6 L378.6,365.6" fill="none"/></g><circle cx="392" cy="346.8" r="6.6" fill="url(#blob)"/><circle cx="392.2" cy="346.8" r="0.8" fill="#f7b47a"/><path d="M386.6,320.6 V402.6 M334.4,356.3 H417.7" stroke="#111" stroke-width="0.8"/><text x="337.40" y="328.80" font-size="6.6" text-anchor="start" fill="#2b2728" font-weight="normal">11.2</text><text x="337.40" y="337.00" font-size="6.6" text-anchor="start" fill="#55b26b" font-weight="normal">Cluster 5</text><text x="414.40" y="328.80" font-size="6.6" text-anchor="end" fill="#2b2728" font-weight="normal">85.0</text><text x="415.20" y="337.00" font-size="6.6" text-anchor="end" fill="#c8334a" font-weight="normal">Cluster 1</text><text x="337.40" y="369.20" font-size="6.6" text-anchor="start" fill="#4a76b5" font-weight="normal">Cluster 6</text><text x="337.40" y="398.60" font-size="6.6" text-anchor="start" fill="#2b2728" font-weight="normal">3.33</text><text x="414.40" y="398.60" font-size="6.6" text-anchor="end" fill="#2b2728" font-weight="normal">0.41</text><text x="0.00" y="0.00" font-size="8.5" text-anchor="middle" fill="#2b2728" font-weight="normal" transform="translate(329.40 361.60) rotate(-90) scale(0.75 1)">TNFAIP3</text><text x="0.00" y="0.00" font-size="8.5" text-anchor="middle" fill="#2b2728" font-weight="normal" transform="translate(376.00 414.00) scale(0.75 1)">MME (CD10)</text><rect x="462.0" y="337.70" width="10.9" height="64.90" fill="#c8102e"/><rect x="462.0" y="328.55" width="10.9" height="9.15" fill="#2daa4a"/><rect x="462.0" y="323.14" width="10.9" height="5.41" fill="#1a559d"/><path d="M467.4,336.37 V339.04 M465.9,336.37 h3 M465.9,339.04 h3" stroke="#153" stroke-width="0.4" fill="none"/><path d="M467.4,327.72 V329.38 M465.9,327.72 h3 M465.9,329.38 h3" stroke="#123" stroke-width="0.4" fill="none"/><path d="M467.4,322.31 V323.98 M465.9,322.31 h3 M465.9,323.98 h3" stroke="#36c" stroke-width="0.4" fill="none"/><rect x="479.3" y="347.44" width="10.9" height="55.16" fill="#c8102e"/><rect x="479.3" y="328.14" width="10.9" height="19.30" fill="#2daa4a"/><rect x="479.3" y="324.39" width="10.9" height="3.74" fill="#1a559d"/><path d="M484.8,346.11 V348.77 M483.2,346.11 h3 M483.2,348.77 h3" stroke="#153" stroke-width="0.4" fill="none"/><path d="M484.8,327.30 V328.97 M483.2,327.30 h3 M483.2,328.97 h3" stroke="#123" stroke-width="0.4" fill="none"/><path d="M484.8,323.56 V325.22 M483.2,323.56 h3 M483.2,325.22 h3" stroke="#36c" stroke-width="0.4" fill="none"/><rect x="496.2" y="333.54" width="10.9" height="69.06" fill="#c8102e"/><rect x="496.2" y="325.64" width="10.9" height="7.90" fill="#2daa4a"/><rect x="496.2" y="323.56" width="10.9" height="2.08" fill="#1a559d"/><path d="M501.6,332.21 V334.88 M500.1,332.21 h3 M500.1,334.88 h3" stroke="#153" stroke-width="0.4" fill="none"/><path d="M501.6,324.81 V326.47 M500.1,324.81 h3 M500.1,326.47 h3" stroke="#123" stroke-width="0.4" fill="none"/><path d="M501.6,322.73 V324.39 M500.1,322.73 h3 M500.1,324.39 h3" stroke="#36c" stroke-width="0.4" fill="none"/><path d="M456.5,316.8 V402.6 H512.4" fill="none" stroke="#111" stroke-width="1.1"/><path d="M456.5,402.60 h-2.6M456.5,394.28 h-1.5M456.5,385.96 h-1.5M456.5,377.64 h-1.5M456.5,369.32 h-1.5M456.5,361.00 h-2.6M456.5,352.68 h-1.5M456.5,344.36 h-1.5M456.5,336.04 h-1.5M456.5,327.72 h-1.5M456.5,319.40 h-2.6M467.4,402.6 v2.4M484.8,402.6 v2.4M501.6,402.6 v2.4" stroke="#111" stroke-width="0.7" fill="none"/><text x="451.20" y="405.00" font-size="6.7" text-anchor="end" fill="#2b2728" font-weight="normal">0</text><text x="451.20" y="363.40" font-size="6.7" text-anchor="end" fill="#2b2728" font-weight="normal">50</text><text x="451.20" y="321.80" font-size="6.7" text-anchor="end" fill="#2b2728" font-weight="normal">100</text><text x="0.00" y="0.00" font-size="8.5" text-anchor="middle" fill="#2b2728" font-weight="normal" transform="translate(434.80 360.40) rotate(-90) scale(0.75 1)">Frequency (%)</text><text x="467.45" y="414.40" font-size="6.7" text-anchor="middle" fill="#2b2728" font-weight="normal">P-1</text><text x="484.75" y="414.40" font-size="6.7" text-anchor="middle" fill="#2b2728" font-weight="normal">P-2</text><text x="501.65" y="414.40" font-size="6.7" text-anchor="middle" fill="#2b2728" font-weight="normal">P-3</text><rect x="467.4" y="419.4" width="6" height="6" fill="#c8102e"/><text x="476.40" y="424.70" font-size="6.4" text-anchor="start" fill="#2b2728" font-weight="normal">Cluster 1</text><rect x="467.4" y="429.2" width="6" height="6" fill="#2daa4a"/><text x="476.40" y="434.50" font-size="6.4" text-anchor="start" fill="#2b2728" font-weight="normal">Cluster 5</text><rect x="467.4" y="439.0" width="6" height="6" fill="#1a559d"/><text x="476.40" y="444.30" font-size="6.4" text-anchor="start" fill="#2b2728" font-weight="normal">Cluster 6</text><text x="124.80" y="471.20" font-size="11.4" text-anchor="start" fill="#000" font-weight="bold">F</text><text x="209.6" y="487" font-size="8.6" text-anchor="middle" fill="#111">CXCR2<tspan dy="-2.8" font-size="5">+</tspan></text><text x="208.4" y="499.0" font-size="8.5" text-anchor="middle"><tspan fill="#3a4a9e">Nucleus</tspan><tspan fill="#222">/</tspan><tspan fill="#5fb7d4">CD10</tspan><tspan fill="#222">/</tspan><tspan fill="#e32b2b">TREM1</tspan></text><text x="208.4" y="509.4" font-size="8.5" text-anchor="middle"><tspan fill="#d4d96a">Resistin</tspan><tspan fill="#222">/</tspan><tspan fill="#9a2f9a">LCN2</tspan><tspan fill="#222">/</tspan><tspan fill="#5aa84a">TNFAIP3</tspan><tspan fill="#222">/</tspan><tspan fill="#e8a435">CXCL8</tspan></text><rect x="135" y="514.5" width="149.6" height="148.6" fill="#0b0b0b"/><g clip-path="url(#clipf1)"><ellipse cx="161.9" cy="540.8" rx="5.8" ry="5.8" fill="#182060" opacity="0.75"/><ellipse cx="161.1" cy="539.3" rx="3.2" ry="3.2" fill="url(#nuc)"/><ellipse cx="163.9" cy="540.0" rx="3.0" ry="3.0" fill="url(#nuc)"/><ellipse cx="163.4" cy="542.5" rx="3.1" ry="3.1" fill="url(#nuc)"/><ellipse cx="159.9" cy="541.4" rx="3.3" ry="3.3" fill="url(#nuc)"/><ellipse cx="161.9" cy="540.8" rx="6.3" ry="6.3" fill="none" stroke="#7a5a4a" stroke-width="0.50" opacity="0.70"/><path d="M165.4,537.6 L166.8,541 L165.6,544.6" stroke="#b01c18" stroke-width="1.4" fill="none" opacity="0.9"/><ellipse cx="137.3" cy="552.7" rx="5.0" ry="5.0" fill="#182060" opacity="0.75"/><ellipse cx="136.3" cy="554.4" rx="2.6" ry="2.6" fill="url(#nuc)"/><ellipse cx="136.2" cy="551.1" rx="3.0" ry="3.0" fill="url(#nuc)"/><ellipse cx="138.9" cy="552.8" rx="2.6" ry="2.6" fill="url(#nuc)"/><ellipse cx="137.3" cy="552.7" rx="5.5" ry="5.5" fill="none" stroke="#9a8a6a" stroke-width="0.40" opacity="0.50"/><ellipse cx="217.2" cy="544.6" rx="6.4" ry="6.4" fill="#182060" opacity="0.75"/><ellipse cx="219.3" cy="545.7" rx="3.6" ry="3.6" fill="url(#nuc)"/><ellipse cx="215.9" cy="546.3" rx="3.8" ry="3.8" fill="url(#nuc)"/><ellipse cx="215.8" cy="543.3" rx="3.9" ry="3.9" fill="url(#nuc)"/><ellipse cx="218.8" cy="542.9" rx="3.6" ry="3.6" fill="url(#nuc)"/><path d="M221.4,549.4h.01M217.6,539.6h.01M211.7,544.8h.01M213.6,539.5h.01M221.0,547.1h.01M220.0,539.9h.01M217.5,540.1h.01M211.5,546.7h.01M218.1,551.1h.01M220.9,542.0h.01M222.8,545.5h.01M222.1,542.6h.01" stroke="#a8a040" stroke-width="0.8" stroke-linecap="round" fill="none" opacity="0.7"/><ellipse cx="221.5" cy="515.6" rx="5.5" ry="5.5" fill="#182060" opacity="0.75"/><ellipse cx="221.8" cy="517.5" rx="3.3" ry="3.3" fill="url(#nuc)"/><ellipse cx="219.9" cy="514.5" rx="3.3" ry="3.3" fill="url(#nuc)"/><ellipse cx="223.0" cy="514.6" rx="3.2" ry="3.2" fill="url(#nuc)"/><ellipse cx="221.5" cy="515.6" rx="6.0" ry="6.0" fill="none" stroke="#a0408a" stroke-width="0.60" opacity="0.70"/><ellipse cx="269.6" cy="530.2" rx="6.2" ry="6.2" fill="#182060" opacity="0.75"/><ellipse cx="271.6" cy="530.9" rx="3.4" ry="3.4" fill="url(#nuc)"/><ellipse cx="268.3" cy="531.8" rx="3.7" ry="3.7" fill="url(#nuc)"/><ellipse cx="268.4" cy="528.4" rx="3.2" ry="3.2" fill="url(#nuc)"/><path d="M275.8,528.5h.01M273.8,531.8h.01M272.6,525.1h.01M267.2,525.8h.01M265.2,526.7h.01M265.5,527.9h.01M264.9,532.4h.01M268.5,523.8h.01M274.8,528.5h.01M265.0,531.9h.01M273.9,531.2h.01M264.7,531.3h.01" stroke="#a0988a" stroke-width="0.8" stroke-linecap="round" fill="none" opacity="0.7"/><ellipse cx="161.2" cy="587.9" rx="5.8" ry="6.6" fill="#182060" opacity="0.75"/><ellipse cx="162.8" cy="587.1" rx="3.4" ry="3.9" fill="url(#nuc)"/><ellipse cx="162.2" cy="589.8" rx="2.9" ry="3.3" fill="url(#nuc)"/><ellipse cx="159.7" cy="588.8" rx="3.1" ry="3.5" fill="url(#nuc)"/><ellipse cx="160.1" cy="586.0" rx="3.5" ry="3.9" fill="url(#nuc)"/><ellipse cx="161.2" cy="587.9" rx="6.3" ry="7.1" fill="none" stroke="#d0b09a" stroke-width="0.70" opacity="0.80"/><ellipse cx="206.2" cy="590.2" rx="6.2" ry="6.2" fill="#182060" opacity="0.75"/><ellipse cx="206.8" cy="592.2" rx="3.2" ry="3.2" fill="url(#nuc)"/><ellipse cx="204.4" cy="590.7" rx="3.8" ry="3.8" fill="url(#nuc)"/><ellipse cx="205.6" cy="587.9" rx="3.6" ry="3.6" fill="url(#nuc)"/><ellipse cx="208.4" cy="590.7" rx="3.6" ry="3.6" fill="url(#nuc)"/><ellipse cx="206.2" cy="590.2" rx="6.7" ry="6.7" fill="none" stroke="#cfd3c8" stroke-width="0.60" opacity="0.60"/><ellipse cx="234.3" cy="572.4" rx="6.4" ry="6.4" fill="#182060" opacity="0.75"/><ellipse cx="232.4" cy="573.0" rx="3.5" ry="3.5" fill="url(#nuc)"/><ellipse cx="234.8" cy="570.0" rx="3.3" ry="3.3" fill="url(#nuc)"/><ellipse cx="235.4" cy="574.0" rx="3.8" ry="3.8" fill="url(#nuc)"/><path d="M234.7,578.1h.01M230.3,576.7h.01M231.0,569.1h.01M240.6,572.9h.01M234.0,577.4h.01M239.8,572.2h.01M237.2,567.7h.01M231.2,568.7h.01M230.0,567.6h.01M228.2,571.5h.01M232.1,568.3h.01M234.6,566.6h.01M232.9,576.7h.01M238.0,568.3h.01" stroke="#c0b838" stroke-width="0.8" stroke-linecap="round" fill="none" opacity="0.7"/><ellipse cx="266.0" cy="571.5" rx="7.2" ry="6.2" fill="#182060" opacity="0.75"/><ellipse cx="264.0" cy="573.2" rx="3.6" ry="3.1" fill="url(#nuc)"/><ellipse cx="265.2" cy="569.4" rx="3.8" ry="3.3" fill="url(#nuc)"/><ellipse cx="267.8" cy="572.3" rx="4.0" ry="3.5" fill="url(#nuc)"/><ellipse cx="266.0" cy="571.5" rx="7.7" ry="6.7" fill="none" stroke="#cfd3c8" stroke-width="0.80" opacity="0.85" stroke-dasharray="22 9"/><ellipse cx="192.7" cy="622.3" rx="5.2" ry="5.2" fill="#182060" opacity="0.75"/><ellipse cx="193.9" cy="623.6" rx="2.7" ry="2.7" fill="url(#nuc)"/><ellipse cx="191.3" cy="623.3" rx="3.1" ry="3.1" fill="url(#nuc)"/><ellipse cx="192.6" cy="620.3" rx="3.0" ry="3.0" fill="url(#nuc)"/><ellipse cx="161.2" cy="643.5" rx="6.4" ry="7.0" fill="#182060" opacity="0.75"/><ellipse cx="160.4" cy="645.6" rx="3.4" ry="3.7" fill="url(#nuc)"/><ellipse cx="159.5" cy="641.7" rx="3.5" ry="3.9" fill="url(#nuc)"/><ellipse cx="163.1" cy="642.7" rx="3.5" ry="3.9" fill="url(#nuc)"/><ellipse cx="161.2" cy="643.5" rx="6.9" ry="7.5" fill="none" stroke="#a89880" stroke-width="0.55" opacity="0.60"/><ellipse cx="237.0" cy="626.2" rx="6.4" ry="6.9" fill="#182060" opacity="0.75"/><ellipse cx="237.9" cy="624.4" rx="3.3" ry="3.5" fill="url(#nuc)"/><ellipse cx="239.0" cy="627.7" rx="3.3" ry="3.6" fill="url(#nuc)"/><ellipse cx="236.5" cy="628.7" rx="3.8" ry="4.1" fill="url(#nuc)"/><ellipse cx="235.2" cy="626.0" rx="3.4" ry="3.7" fill="url(#nuc)"/><ellipse cx="237.0" cy="626.2" rx="6.9" ry="7.4" fill="none" stroke="#c8607a" stroke-width="0.80" opacity="0.75"/><ellipse cx="266.8" cy="608.0" rx="6.2" ry="6.2" fill="#182060" opacity="0.75"/><ellipse cx="264.9" cy="608.3" rx="3.6" ry="3.6" fill="url(#nuc)"/><ellipse cx="267.5" cy="605.7" rx="3.6" ry="3.6" fill="url(#nuc)"/><ellipse cx="268.9" cy="608.0" rx="3.8" ry="3.8" fill="url(#nuc)"/><ellipse cx="267.2" cy="610.2" rx="3.5" ry="3.5" fill="url(#nuc)"/><path d="M267.2,612.5h.01M263.1,610.8h.01M271.6,610.1h.01M272.1,605.0h.01M267.3,603.2h.01M262.0,606.9h.01M268.9,612.0h.01M268.2,614.2h.01M269.7,602.6h.01M268.3,603.5h.01" stroke="#58986a" stroke-width="0.8" stroke-linecap="round" fill="none" opacity="0.7"/></g><rect x="258.3" y="519.0" width="21.8" height="21.6" fill="none" stroke="#c9c9c2" stroke-width="0.7"/><rect x="150.4" y="577.3" width="21.8" height="21.6" fill="none" stroke="#c9c9c2" stroke-width="0.7"/><rect x="182.1" y="611.7" width="21.8" height="21.6" fill="none" stroke="#c9c9c2" stroke-width="0.7"/><path d="M239.2,661.6 H279.8" stroke="#eee" stroke-width="0.7"/><path d="M239.2,661.6 v-1.6M243.3,661.6 v-0.9M247.3,661.6 v-0.9M251.4,661.6 v-0.9M255.4,661.6 v-0.9M259.5,661.6 v-1.6M263.6,661.6 v-0.9M267.6,661.6 v-0.9M271.7,661.6 v-0.9M275.7,661.6 v-0.9M279.8,661.6 v-1.6" stroke="#eee" stroke-width="0.5"/><text x="239.80" y="658.30" font-size="6.6" text-anchor="middle" fill="#f4f4f4" font-weight="normal">0</text><text x="258.90" y="658.30" font-size="6.6" text-anchor="middle" fill="#f4f4f4" font-weight="normal">µm</text><text x="279.40" y="658.30" font-size="6.6" text-anchor="middle" fill="#f4f4f4" font-weight="normal">50</text><text x="308.6" y="498.6" font-size="8.5" text-anchor="middle"><tspan fill="#5fb7d4">CD10</tspan><tspan fill="#222">/</tspan></text><text x="306.80" y="508.80" font-size="8.5" text-anchor="middle" fill="#e32b2b" font-weight="normal">TREM1</text><rect x="287" y="514.6" width="41.8" height="41" fill="#0b0b0b"/><rect x="287" y="568.7" width="41.8" height="41" fill="#0b0b0b"/><rect x="287" y="622.7" width="41.8" height="41" fill="#0b0b0b"/><text x="287.3" y="564.4" font-size="6.2"><tspan fill="#d4d96a">Resistin</tspan><tspan fill="#222">/</tspan><tspan fill="#9a2f9a">LCN2</tspan></text><text x="287.3" y="618" font-size="6.2"><tspan fill="#5aa84a">TNFAIP3</tspan><tspan fill="#222">/</tspan><tspan fill="#e8a435">CXCL8</tspan></text><ellipse cx="307.6" cy="535.4" rx="9.0" ry="10.2" fill="#1b2470" opacity="0.8"/><ellipse cx="304.6" cy="531.6" rx="4.6" ry="4.8" fill="url(#nuc)"/><ellipse cx="310.6" cy="531.4" rx="4.3" ry="4.5" fill="url(#nuc)"/><ellipse cx="304.2" cy="539.0" rx="4.6" ry="4.8" fill="url(#nuc)"/><ellipse cx="310.4" cy="539.2" rx="4.4" ry="4.6" fill="url(#nuc)"/><ellipse cx="307.6" cy="535.4" rx="4.4" ry="4.6" fill="url(#nuc)"/><path d="M315.6,528.5 C318.8,531 319.4,538 317,541.6 L315,537.4 L315.8,533 Z M302,545 C304.6,548 310.6,548.4 313.6,545.8 L308,544.2 Z" fill="#b81a1a"/><path d="M298.4,526.4 C302.4,520.8 312.4,519.8 317.6,524.8 C322,529 322.4,538.6 319.6,543.6 C316.4,549.6 305.6,550.8 300.4,546.4 C295.6,542 295.4,531.2 298.4,526.4 Z" fill="none" stroke="#e4e6dc" stroke-width="0.85"/><ellipse cx="307.2" cy="588.4" rx="10.4" ry="11.2" fill="#1b2470" opacity="0.8"/><ellipse cx="304.4" cy="584.8" rx="6.2" ry="6.5" fill="url(#nuc)"/><ellipse cx="310.6" cy="586.8" rx="6.0" ry="6.3" fill="url(#nuc)"/><ellipse cx="305.6" cy="592.4" rx="6.2" ry="6.5" fill="url(#nuc)"/><ellipse cx="310.2" cy="593.0" rx="5.0" ry="5.2" fill="url(#nuc)"/><path d="M317.2,592.3h.01M301.4,596.5h.01M309.0,599.4h.01M312.6,596.4h.01M305.1,578.1h.01M309.6,598.3h.01M316.5,591.0h.01M305.4,600.0h.01M318.1,586.4h.01M306.5,577.0h.01M304.5,597.9h.01M311.5,598.3h.01M301.6,596.5h.01M317.0,593.2h.01M313.6,596.1h.01M307.4,576.7h.01M318.1,590.0h.01M310.1,577.4h.01M306.9,600.1h.01M304.8,578.3h.01M306.1,577.1h.01M317.4,584.1h.01M317.3,585.2h.01M304.8,598.2h.01M316.8,594.0h.01M316.3,592.1h.01M314.9,580.6h.01M312.1,578.8h.01M316.1,593.5h.01M309.5,577.6h.01M302.8,597.6h.01M316.8,583.1h.01M315.1,594.1h.01M304.2,577.5h.01" stroke="#c05a70" stroke-width="0.9" stroke-linecap="round" fill="none" opacity="0.8"/><path d="M309.4,586 C312.4,584.4 314.2,588.4 311,591.2" stroke="#c8c058" stroke-width="0.5" fill="none" opacity="0.8"/><ellipse cx="308.1" cy="642.9" rx="11.0" ry="12.0" fill="#1b2470" opacity="0.8"/><ellipse cx="303.5" cy="637.9" rx="6.0" ry="6.3" fill="url(#nuc)"/><ellipse cx="312.5" cy="637.9" rx="5.8" ry="6.1" fill="url(#nuc)"/><ellipse cx="303.5" cy="647.7" rx="6.0" ry="6.3" fill="url(#nuc)"/><ellipse cx="312.7" cy="647.9" rx="5.8" ry="6.1" fill="url(#nuc)"/><path d="M297.0,645.8h.01M316.1,653.3h.01M319.8,643.4h.01M316.7,635.9h.01M296.8,638.6h.01M319.1,646.1h.01M304.8,630.8h.01M306.4,631.1h.01M308.9,654.7h.01M295.5,642.4h.01M297.7,635.7h.01M299.0,651.8h.01M317.1,650.2h.01M302.5,631.1h.01M298.6,648.4h.01M306.9,654.9h.01M305.7,656.1h.01M312.0,655.8h.01M315.9,634.9h.01M299.7,651.7h.01M319.5,644.7h.01M317.1,636.4h.01M299.2,636.1h.01M297.1,636.4h.01M311.2,654.0h.01M318.3,649.3h.01M318.8,644.2h.01M295.5,643.2h.01M298.1,648.9h.01M301.1,633.9h.01M298.5,637.2h.01M298.3,634.2h.01M319.2,647.2h.01M299.5,635.5h.01M306.6,656.7h.01M319.0,642.7h.01M304.6,629.7h.01M309.1,655.8h.01M319.1,646.2h.01M302.6,631.4h.01M309.8,631.3h.01M300.9,654.0h.01M298.1,636.5h.01M297.7,650.9h.01M298.6,637.7h.01M311.6,631.2h.01M298.0,647.8h.01M297.5,647.1h.01M318.3,649.8h.01M317.9,651.0h.01M320.2,645.0h.01M312.2,631.0h.01M305.3,631.2h.01M307.2,630.4h.01M309.6,656.6h.01M298.8,650.1h.01M315.4,633.3h.01M302.7,632.5h.01M314.3,632.8h.01M320.2,647.2h.01M314.0,655.1h.01M320.0,641.8h.01M318.8,643.8h.01M311.0,654.9h.01M298.4,634.0h.01M301.4,652.3h.01M298.0,638.4h.01M318.2,649.5h.01M304.5,631.9h.01M296.5,646.9h.01M309.1,630.5h.01M316.4,635.1h.01M305.5,629.9h.01M316.6,634.2h.01M316.8,649.7h.01M297.3,640.7h.01M300.7,634.4h.01M310.2,631.1h.01M319.0,643.9h.01M296.7,646.4h.01" stroke="#a4c238" stroke-width="0.9" stroke-linecap="round" fill="none" opacity="0.85"/><text x="0.00" y="0.00" font-size="6.4" text-anchor="middle" fill="#2b2728" font-weight="normal" transform="translate(333.60 535.90) rotate(90)">Cluster 1</text><text x="0.00" y="0.00" font-size="6.4" text-anchor="middle" fill="#2b2728" font-weight="normal" transform="translate(333.60 588.70) rotate(90)">Cluster 5</text><text x="0.00" y="0.00" font-size="6.4" text-anchor="middle" fill="#2b2728" font-weight="normal" transform="translate(333.60 642.30) rotate(90)">Cluster 6</text><path d="M345.2,474.4 V666" stroke="#333" stroke-width="0.8"/><text x="426" y="486.6" font-size="8.6" text-anchor="middle" fill="#111">CXCR2<tspan dy="-2.8" font-size="5">−</tspan></text><text x="426.0" y="497.6" font-size="8.5" text-anchor="middle"><tspan fill="#3a4a9e">Nucleus</tspan><tspan fill="#222">/</tspan><tspan fill="#5fb7d4">CD10</tspan><tspan fill="#222">/</tspan><tspan fill="#e32b2b">TREM1</tspan></text><text x="426.0" y="508.0" font-size="8.5" text-anchor="middle"><tspan fill="#d4d96a">Resistin</tspan><tspan fill="#222">/</tspan><tspan fill="#9a2f9a">LCN2</tspan><tspan fill="#222">/</tspan><tspan fill="#5aa84a">TNFAIP3</tspan><tspan fill="#222">/</tspan><tspan fill="#e8a435">CXCL8</tspan></text><rect x="351" y="514.5" width="150" height="148.8" fill="#0b0b0b"/><g clip-path="url(#clipf2)"><ellipse cx="371.2" cy="527.0" rx="4.6" ry="4.6" fill="#182060" opacity="0.75"/><ellipse cx="371.3" cy="528.5" rx="2.5" ry="2.5" fill="url(#nuc)"/><ellipse cx="369.8" cy="527.0" rx="2.7" ry="2.7" fill="url(#nuc)"/><ellipse cx="370.9" cy="525.7" rx="2.7" ry="2.7" fill="url(#nuc)"/><ellipse cx="372.6" cy="527.0" rx="2.7" ry="2.7" fill="url(#nuc)"/><ellipse cx="450.0" cy="526.0" rx="4.2" ry="4.2" fill="#182060" opacity="0.75"/><ellipse cx="450.1" cy="524.8" rx="2.2" ry="2.2" fill="url(#nuc)"/><ellipse cx="450.5" cy="527.1" rx="2.5" ry="2.5" fill="url(#nuc)"/><ellipse cx="448.7" cy="526.3" rx="2.5" ry="2.5" fill="url(#nuc)"/><ellipse cx="398.8" cy="553.0" rx="4.8" ry="4.8" fill="#182060" opacity="0.75"/><ellipse cx="399.9" cy="552.2" rx="2.5" ry="2.5" fill="url(#nuc)"/><ellipse cx="399.1" cy="554.7" rx="2.5" ry="2.5" fill="url(#nuc)"/><ellipse cx="397.8" cy="552.1" rx="2.8" ry="2.8" fill="url(#nuc)"/><ellipse cx="477.4" cy="551.0" rx="4.8" ry="4.8" fill="#182060" opacity="0.75"/><ellipse cx="476.5" cy="552.5" rx="2.7" ry="2.7" fill="url(#nuc)"/><ellipse cx="476.6" cy="549.4" rx="2.7" ry="2.7" fill="url(#nuc)"/><ellipse cx="479.3" cy="551.2" rx="2.7" ry="2.7" fill="url(#nuc)"/><ellipse cx="430.0" cy="582.0" rx="5.0" ry="5.0" fill="#182060" opacity="0.75"/><ellipse cx="429.8" cy="583.9" rx="2.9" ry="2.9" fill="url(#nuc)"/><ellipse cx="428.5" cy="581.7" rx="2.5" ry="2.5" fill="url(#nuc)"/><ellipse cx="430.1" cy="580.1" rx="2.8" ry="2.8" fill="url(#nuc)"/><ellipse cx="431.9" cy="582.3" rx="2.9" ry="2.9" fill="url(#nuc)"/><ellipse cx="370.5" cy="598.7" rx="4.6" ry="4.6" fill="#182060" opacity="0.75"/><ellipse cx="370.6" cy="600.0" rx="2.6" ry="2.6" fill="url(#nuc)"/><ellipse cx="368.7" cy="598.7" rx="2.5" ry="2.5" fill="url(#nuc)"/><ellipse cx="370.3" cy="597.3" rx="2.8" ry="2.8" fill="url(#nuc)"/><ellipse cx="372.2" cy="599.1" rx="2.8" ry="2.8" fill="url(#nuc)"/><ellipse cx="490.6" cy="593.6" rx="4.8" ry="4.8" fill="#182060" opacity="0.75"/><ellipse cx="489.2" cy="593.4" rx="2.5" ry="2.5" fill="url(#nuc)"/><ellipse cx="491.0" cy="592.3" rx="2.5" ry="2.5" fill="url(#nuc)"/><ellipse cx="492.1" cy="594.2" rx="2.4" ry="2.4" fill="url(#nuc)"/><ellipse cx="490.1" cy="595.4" rx="2.7" ry="2.7" fill="url(#nuc)"/><ellipse cx="416.2" cy="621.2" rx="4.2" ry="4.2" fill="#182060" opacity="0.75"/><ellipse cx="415.5" cy="622.5" rx="2.5" ry="2.5" fill="url(#nuc)"/><ellipse cx="415.4" cy="620.0" rx="2.3" ry="2.3" fill="url(#nuc)"/><ellipse cx="417.8" cy="620.8" rx="2.6" ry="2.6" fill="url(#nuc)"/><ellipse cx="468.8" cy="627.0" rx="3.8" ry="3.8" fill="#182060" opacity="0.75"/><ellipse cx="468.2" cy="628.3" rx="2.1" ry="2.1" fill="url(#nuc)"/><ellipse cx="468.0" cy="625.9" rx="2.1" ry="2.1" fill="url(#nuc)"/><ellipse cx="470.0" cy="626.8" rx="2.0" ry="2.0" fill="url(#nuc)"/><ellipse cx="371.2" cy="652.3" rx="4.8" ry="4.8" fill="#182060" opacity="0.75"/><ellipse cx="372.3" cy="651.4" rx="2.5" ry="2.5" fill="url(#nuc)"/><ellipse cx="371.9" cy="653.5" rx="2.6" ry="2.6" fill="url(#nuc)"/><ellipse cx="369.8" cy="652.0" rx="2.5" ry="2.5" fill="url(#nuc)"/><ellipse cx="502.0" cy="591.5" rx="3.0" ry="3.0" fill="#182060" opacity="0.75"/><ellipse cx="503.1" cy="592.0" rx="1.5" ry="1.5" fill="url(#nuc)"/><ellipse cx="501.4" cy="592.3" rx="1.6" ry="1.6" fill="url(#nuc)"/><ellipse cx="501.5" cy="590.7" rx="1.8" ry="1.8" fill="url(#nuc)"/><ellipse cx="428.3" cy="554.7" rx="4.8" ry="4.8" fill="#182060" opacity="0.75"/><ellipse cx="429.2" cy="555.8" rx="2.8" ry="2.8" fill="url(#nuc)"/><ellipse cx="426.7" cy="555.6" rx="2.6" ry="2.6" fill="url(#nuc)"/><ellipse cx="427.2" cy="553.1" rx="2.5" ry="2.5" fill="url(#nuc)"/><ellipse cx="429.5" cy="553.5" rx="2.7" ry="2.7" fill="url(#nuc)"/><path d="M424.6,551.6 C426.6,549.4 430.4,549.4 432.4,551.4" stroke="#c81e1e" stroke-width="1.3" fill="none"/><path d="M391.5,552.5 h3 M472,552 h3.2 M375.5,527.6 h1.6 M461.8,629 h2.4" stroke="#4a9a4a" stroke-width="0.6"/><ellipse cx="371.2" cy="652.6" rx="5.4" ry="5.6" fill="none" stroke="#a050a0" stroke-width="0.5" opacity="0.8"/></g><path d="M456.4,661.6 H497.0" stroke="#eee" stroke-width="0.7"/><path d="M456.4,661.6 v-1.6M460.5,661.6 v-0.9M464.5,661.6 v-0.9M468.6,661.6 v-0.9M472.6,661.6 v-0.9M476.7,661.6 v-1.6M480.8,661.6 v-0.9M484.8,661.6 v-0.9M488.9,661.6 v-0.9M492.9,661.6 v-0.9M497.0,661.6 v-1.6" stroke="#eee" stroke-width="0.5"/><text x="457.00" y="658.20" font-size="6.6" text-anchor="middle" fill="#f4f4f4" font-weight="normal">0</text><text x="476.10" y="658.20" font-size="6.6" text-anchor="middle" fill="#f4f4f4" font-weight="normal">µm</text><text x="496.60" y="658.20" font-size="6.6" text-anchor="middle" fill="#f4f4f4" font-weight="normal">50</text><rect x="0.5" y="0.5" width="519" height="682" fill="none" stroke="#474747" stroke-width="1"/></svg></body></html>
